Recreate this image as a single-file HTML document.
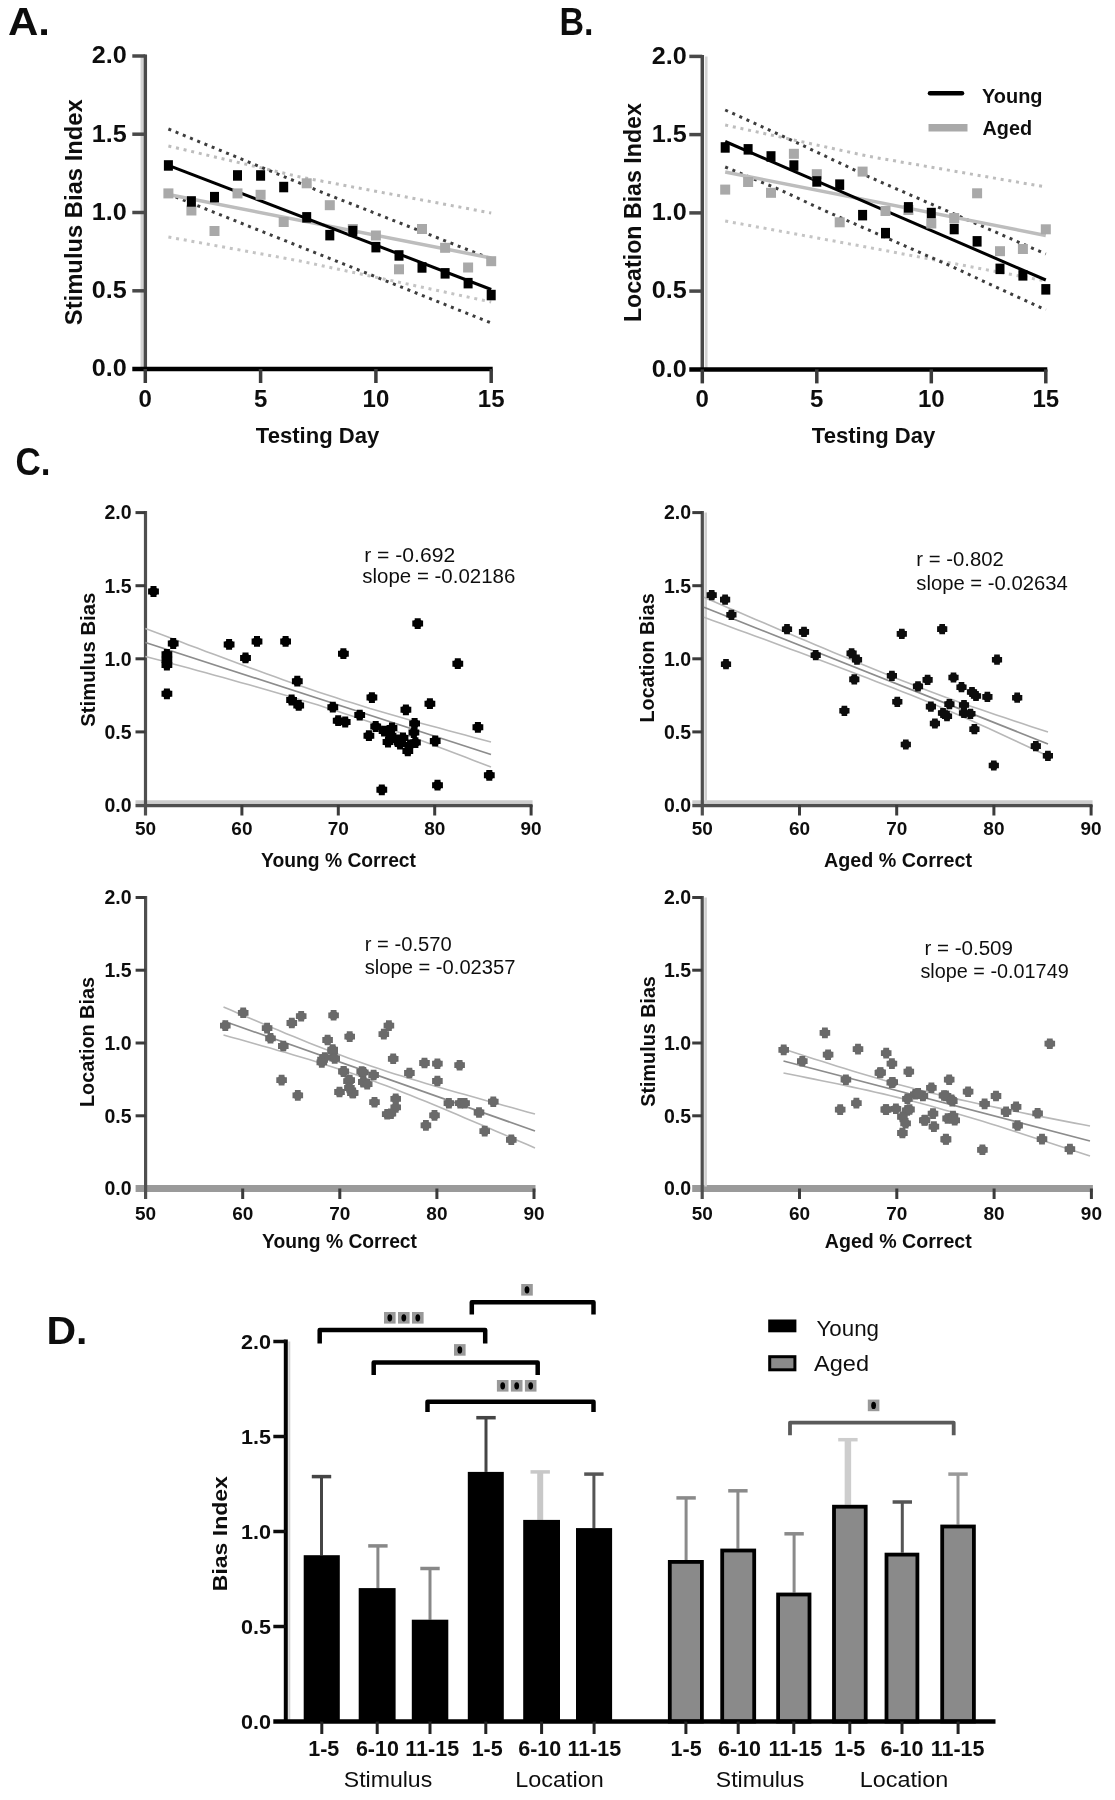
<!DOCTYPE html>
<html><head><meta charset="utf-8"><title>Figure</title>
<style>
html,body{margin:0;padding:0;background:#fff;}
body{width:1115px;height:1800px;overflow:hidden;font-family:"Liberation Sans",sans-serif;}
svg{display:block;}
</style></head>
<body>
<svg width="1115" height="1800" viewBox="0 0 1115 1800" font-family="'Liberation Sans', sans-serif">
<defs><filter id="bl" x="0" y="0" width="100%" height="100%"><feGaussianBlur stdDeviation="0.7"/></filter></defs>
<g filter="url(#bl)">
<rect x="0" y="0" width="1115" height="1800" fill="#fff"/>
<text x="8" y="34.5" font-size="38" font-weight="bold" text-anchor="start" fill="#111" textLength="42" lengthAdjust="spacingAndGlyphs">A.</text>
<text x="559.5" y="35" font-size="38" font-weight="bold" text-anchor="start" fill="#111" textLength="34" lengthAdjust="spacingAndGlyphs">B.</text>
<text x="15.5" y="475" font-size="38" font-weight="bold" text-anchor="start" fill="#111" textLength="35" lengthAdjust="spacingAndGlyphs">C.</text>
<text x="46.5" y="1343.5" font-size="38" font-weight="bold" text-anchor="start" fill="#111" textLength="41" lengthAdjust="spacingAndGlyphs">D.</text>
<line x1="141.8" y1="56" x2="141.8" y2="369" stroke="#d2d2d2" stroke-width="2.5" stroke-linecap="butt"/>
<line x1="145.3" y1="54.5" x2="145.3" y2="369" stroke="#4a4a4a" stroke-width="3.5" stroke-linecap="butt"/>
<line x1="132.3" y1="290.8" x2="145.3" y2="290.8" stroke="#4a4a4a" stroke-width="3.5" stroke-linecap="butt"/>
<line x1="132.3" y1="212.5" x2="145.3" y2="212.5" stroke="#4a4a4a" stroke-width="3.5" stroke-linecap="butt"/>
<line x1="132.3" y1="134.2" x2="145.3" y2="134.2" stroke="#4a4a4a" stroke-width="3.5" stroke-linecap="butt"/>
<line x1="132.3" y1="56" x2="145.3" y2="56" stroke="#4a4a4a" stroke-width="3.5" stroke-linecap="butt"/>
<line x1="132.3" y1="369" x2="492.7" y2="369" stroke="#000" stroke-width="4.5" stroke-linecap="butt"/>
<line x1="145.3" y1="369" x2="145.3" y2="383" stroke="#3a3a3a" stroke-width="3.5" stroke-linecap="butt"/>
<text x="145.3" y="406.5" font-size="24" font-weight="bold" text-anchor="middle" fill="#111">0</text>
<line x1="260.6" y1="369" x2="260.6" y2="383" stroke="#3a3a3a" stroke-width="3.5" stroke-linecap="butt"/>
<text x="260.6" y="406.5" font-size="24" font-weight="bold" text-anchor="middle" fill="#111">5</text>
<line x1="375.9" y1="369" x2="375.9" y2="383" stroke="#3a3a3a" stroke-width="3.5" stroke-linecap="butt"/>
<text x="375.9" y="406.5" font-size="24" font-weight="bold" text-anchor="middle" fill="#111">10</text>
<line x1="491.2" y1="369" x2="491.2" y2="383" stroke="#3a3a3a" stroke-width="3.5" stroke-linecap="butt"/>
<text x="491.2" y="406.5" font-size="24" font-weight="bold" text-anchor="middle" fill="#111">15</text>
<text x="126.8" y="376.3" font-size="24" font-weight="bold" text-anchor="end" fill="#111" textLength="35" lengthAdjust="spacingAndGlyphs">0.0</text>
<text x="126.8" y="298.1" font-size="24" font-weight="bold" text-anchor="end" fill="#111" textLength="35" lengthAdjust="spacingAndGlyphs">0.5</text>
<text x="126.8" y="219.8" font-size="24" font-weight="bold" text-anchor="end" fill="#111" textLength="35" lengthAdjust="spacingAndGlyphs">1.0</text>
<text x="126.8" y="141.6" font-size="24" font-weight="bold" text-anchor="end" fill="#111" textLength="35" lengthAdjust="spacingAndGlyphs">1.5</text>
<text x="126.8" y="63.3" font-size="24" font-weight="bold" text-anchor="end" fill="#111" textLength="35" lengthAdjust="spacingAndGlyphs">2.0</text>
<text x="317.6" y="442.8" font-size="22.3" font-weight="bold" text-anchor="middle" fill="#111" textLength="123.5" lengthAdjust="spacingAndGlyphs">Testing Day</text>
<text transform="translate(82,212.2) rotate(-90)" x="0" y="0" font-size="23.7" font-weight="bold" text-anchor="middle" fill="#111" textLength="226" lengthAdjust="spacingAndGlyphs">Stimulus Bias Index</text>
<polyline points="168.4,146 300,177 491.2,213" fill="none" stroke="#bdbdbd" stroke-width="3" stroke-linecap="butt" stroke-linejoin="round" stroke-dasharray="3 4.8"/>
<polyline points="168.4,237 300,261 491.2,302" fill="none" stroke="#c4c4c4" stroke-width="3" stroke-linecap="butt" stroke-linejoin="round" stroke-dasharray="3 4.8"/>
<polyline points="168.4,129 325,193.5 438,238 491.2,259" fill="none" stroke="#3c3c3c" stroke-width="3" stroke-linecap="butt" stroke-linejoin="round" stroke-dasharray="3 4.8"/>
<polyline points="168.4,194 257,229.5 377.7,277.6 491.2,323" fill="none" stroke="#3c3c3c" stroke-width="3" stroke-linecap="butt" stroke-linejoin="round" stroke-dasharray="3 4.8"/>
<line x1="168.4" y1="194.5" x2="491.2" y2="258" stroke="#bdbdbd" stroke-width="3.5" stroke-linecap="butt"/>
<line x1="168.4" y1="165.4" x2="491.2" y2="289.5" stroke="#000" stroke-width="3" stroke-linecap="butt"/>
<rect x="163.4" y="188.4" width="10" height="10" fill="#a9a9a9"/>
<rect x="186.4" y="205.5" width="10" height="10" fill="#a9a9a9"/>
<rect x="209.5" y="226" width="10" height="10" fill="#a9a9a9"/>
<rect x="232.5" y="188.4" width="10" height="10" fill="#a9a9a9"/>
<rect x="255.6" y="189.8" width="10" height="10" fill="#a9a9a9"/>
<rect x="278.7" y="217" width="10" height="10" fill="#a9a9a9"/>
<rect x="301.7" y="178.3" width="10" height="10" fill="#a9a9a9"/>
<rect x="324.8" y="200.2" width="10" height="10" fill="#a9a9a9"/>
<rect x="347.8" y="224" width="10" height="10" fill="#a9a9a9"/>
<rect x="370.9" y="230.5" width="10" height="10" fill="#a9a9a9"/>
<rect x="394" y="264.3" width="10" height="10" fill="#a9a9a9"/>
<rect x="417" y="224" width="10" height="10" fill="#a9a9a9"/>
<rect x="440.1" y="242.8" width="10" height="10" fill="#a9a9a9"/>
<rect x="463.1" y="262.5" width="10" height="10" fill="#a9a9a9"/>
<rect x="486.2" y="256.2" width="10" height="10" fill="#a9a9a9"/>
<rect x="163.9" y="160.2" width="9" height="10.5" fill="#000"/>
<rect x="186.9" y="196.2" width="9" height="10.5" fill="#000"/>
<rect x="210" y="191.9" width="9" height="10.5" fill="#000"/>
<rect x="233" y="170.2" width="9" height="10.5" fill="#000"/>
<rect x="256.1" y="170.2" width="9" height="10.5" fill="#000"/>
<rect x="279.2" y="181.8" width="9" height="10.5" fill="#000"/>
<rect x="302.2" y="212.1" width="9" height="10.5" fill="#000"/>
<rect x="325.3" y="229.9" width="9" height="10.5" fill="#000"/>
<rect x="348.3" y="225.8" width="9" height="10.5" fill="#000"/>
<rect x="371.4" y="241.9" width="9" height="10.5" fill="#000"/>
<rect x="394.5" y="250.2" width="9" height="10.5" fill="#000"/>
<rect x="417.5" y="262.2" width="9" height="10.5" fill="#000"/>
<rect x="440.6" y="268.1" width="9" height="10.5" fill="#000"/>
<rect x="463.6" y="277.9" width="9" height="10.5" fill="#000"/>
<rect x="486.7" y="289.8" width="9" height="10.5" fill="#000"/>
<line x1="706.3" y1="56.4" x2="706.3" y2="369.4" stroke="#d2d2d2" stroke-width="2.5" stroke-linecap="butt"/>
<line x1="702.3" y1="54.9" x2="702.3" y2="369.4" stroke="#4a4a4a" stroke-width="3.5" stroke-linecap="butt"/>
<line x1="689.3" y1="291.1" x2="702.3" y2="291.1" stroke="#4a4a4a" stroke-width="3.5" stroke-linecap="butt"/>
<line x1="689.3" y1="212.9" x2="702.3" y2="212.9" stroke="#4a4a4a" stroke-width="3.5" stroke-linecap="butt"/>
<line x1="689.3" y1="134.6" x2="702.3" y2="134.6" stroke="#4a4a4a" stroke-width="3.5" stroke-linecap="butt"/>
<line x1="689.3" y1="56.4" x2="702.3" y2="56.4" stroke="#4a4a4a" stroke-width="3.5" stroke-linecap="butt"/>
<line x1="689.3" y1="369.4" x2="1047.3" y2="369.4" stroke="#000" stroke-width="4.5" stroke-linecap="butt"/>
<line x1="702.3" y1="369.4" x2="702.3" y2="383.4" stroke="#3a3a3a" stroke-width="3.5" stroke-linecap="butt"/>
<text x="702.3" y="406.5" font-size="24" font-weight="bold" text-anchor="middle" fill="#111">0</text>
<line x1="816.8" y1="369.4" x2="816.8" y2="383.4" stroke="#3a3a3a" stroke-width="3.5" stroke-linecap="butt"/>
<text x="816.8" y="406.5" font-size="24" font-weight="bold" text-anchor="middle" fill="#111">5</text>
<line x1="931.3" y1="369.4" x2="931.3" y2="383.4" stroke="#3a3a3a" stroke-width="3.5" stroke-linecap="butt"/>
<text x="931.3" y="406.5" font-size="24" font-weight="bold" text-anchor="middle" fill="#111">10</text>
<line x1="1045.8" y1="369.4" x2="1045.8" y2="383.4" stroke="#3a3a3a" stroke-width="3.5" stroke-linecap="butt"/>
<text x="1045.8" y="406.5" font-size="24" font-weight="bold" text-anchor="middle" fill="#111">15</text>
<text x="686.8" y="376.7" font-size="24" font-weight="bold" text-anchor="end" fill="#111" textLength="35" lengthAdjust="spacingAndGlyphs">0.0</text>
<text x="686.8" y="298.4" font-size="24" font-weight="bold" text-anchor="end" fill="#111" textLength="35" lengthAdjust="spacingAndGlyphs">0.5</text>
<text x="686.8" y="220.2" font-size="24" font-weight="bold" text-anchor="end" fill="#111" textLength="35" lengthAdjust="spacingAndGlyphs">1.0</text>
<text x="686.8" y="141.9" font-size="24" font-weight="bold" text-anchor="end" fill="#111" textLength="35" lengthAdjust="spacingAndGlyphs">1.5</text>
<text x="686.8" y="63.7" font-size="24" font-weight="bold" text-anchor="end" fill="#111" textLength="35" lengthAdjust="spacingAndGlyphs">2.0</text>
<text x="873.6" y="442.8" font-size="22.3" font-weight="bold" text-anchor="middle" fill="#111" textLength="123.5" lengthAdjust="spacingAndGlyphs">Testing Day</text>
<text transform="translate(640.5,212.6) rotate(-90)" x="0" y="0" font-size="23" font-weight="bold" text-anchor="middle" fill="#111" textLength="219" lengthAdjust="spacingAndGlyphs">Location Bias Index</text>
<polyline points="725.2,125 869.5,156.5 1045.8,187" fill="none" stroke="#bdbdbd" stroke-width="3" stroke-linecap="butt" stroke-linejoin="round" stroke-dasharray="3 4.8"/>
<polyline points="725.2,221 874.4,248.5 1045.8,281" fill="none" stroke="#c4c4c4" stroke-width="3" stroke-linecap="butt" stroke-linejoin="round" stroke-dasharray="3 4.8"/>
<polyline points="725.2,110 794.4,141.5 870.8,177.7 1045.8,254" fill="none" stroke="#3c3c3c" stroke-width="3" stroke-linecap="butt" stroke-linejoin="round" stroke-dasharray="3 4.8"/>
<polyline points="725.2,167 777.5,188.8 830,213 949.7,265.6 1045.8,310" fill="none" stroke="#3c3c3c" stroke-width="3" stroke-linecap="butt" stroke-linejoin="round" stroke-dasharray="3 4.8"/>
<line x1="725.2" y1="172" x2="1045.8" y2="235.5" stroke="#bdbdbd" stroke-width="3.5" stroke-linecap="butt"/>
<line x1="725.2" y1="141.5" x2="1045.8" y2="280" stroke="#000" stroke-width="3" stroke-linecap="butt"/>
<rect x="720.2" y="184.6" width="10" height="10" fill="#a9a9a9"/>
<rect x="743.1" y="177" width="10" height="10" fill="#a9a9a9"/>
<rect x="766" y="187.8" width="10" height="10" fill="#a9a9a9"/>
<rect x="788.9" y="148.8" width="10" height="10" fill="#a9a9a9"/>
<rect x="811.8" y="169.2" width="10" height="10" fill="#a9a9a9"/>
<rect x="834.7" y="217.3" width="10" height="10" fill="#a9a9a9"/>
<rect x="857.6" y="166.6" width="10" height="10" fill="#a9a9a9"/>
<rect x="880.5" y="206" width="10" height="10" fill="#a9a9a9"/>
<rect x="903.4" y="205" width="10" height="10" fill="#a9a9a9"/>
<rect x="926.3" y="218.5" width="10" height="10" fill="#a9a9a9"/>
<rect x="949.2" y="213" width="10" height="10" fill="#a9a9a9"/>
<rect x="972.1" y="188.3" width="10" height="10" fill="#a9a9a9"/>
<rect x="995" y="246.2" width="10" height="10" fill="#a9a9a9"/>
<rect x="1017.9" y="244" width="10" height="10" fill="#a9a9a9"/>
<rect x="1040.8" y="224.3" width="10" height="10" fill="#a9a9a9"/>
<rect x="720.7" y="142.2" width="9" height="10.5" fill="#000"/>
<rect x="743.6" y="144.1" width="9" height="10.5" fill="#000"/>
<rect x="766.5" y="151.2" width="9" height="10.5" fill="#000"/>
<rect x="789.4" y="160.3" width="9" height="10.5" fill="#000"/>
<rect x="812.3" y="176.2" width="9" height="10.5" fill="#000"/>
<rect x="835.2" y="179.4" width="9" height="10.5" fill="#000"/>
<rect x="858.1" y="209.9" width="9" height="10.5" fill="#000"/>
<rect x="881" y="227.9" width="9" height="10.5" fill="#000"/>
<rect x="903.9" y="202.1" width="9" height="10.5" fill="#000"/>
<rect x="926.8" y="207.8" width="9" height="10.5" fill="#000"/>
<rect x="949.7" y="223.8" width="9" height="10.5" fill="#000"/>
<rect x="972.6" y="236.1" width="9" height="10.5" fill="#000"/>
<rect x="995.5" y="263.6" width="9" height="10.5" fill="#000"/>
<rect x="1018.4" y="270.1" width="9" height="10.5" fill="#000"/>
<rect x="1041.3" y="284.1" width="9" height="10.5" fill="#000"/>
<line x1="930" y1="93.2" x2="962" y2="93.2" stroke="#000" stroke-width="4.5" stroke-linecap="round"/>
<line x1="928.5" y1="127.8" x2="967.5" y2="127.8" stroke="#a9a9a9" stroke-width="7.5" stroke-linecap="butt"/>
<text x="982" y="103" font-size="20" font-weight="bold" text-anchor="start" fill="#111" textLength="60.5" lengthAdjust="spacingAndGlyphs">Young</text>
<text x="982.5" y="134.5" font-size="20" font-weight="bold" text-anchor="start" fill="#111" textLength="49.5" lengthAdjust="spacingAndGlyphs">Aged</text>
<line x1="135.5" y1="801.8" x2="532.6" y2="801.8" stroke="#cdcdcd" stroke-width="3" stroke-linecap="butt"/>
<line x1="135.5" y1="805.5" x2="532.6" y2="805.5" stroke="#505050" stroke-width="3.5" stroke-linecap="butt"/>
<line x1="145.5" y1="511.1" x2="145.5" y2="815.5" stroke="#505050" stroke-width="3.2" stroke-linecap="butt"/>
<line x1="135.5" y1="731.9" x2="145.5" y2="731.9" stroke="#3a3a3a" stroke-width="3" stroke-linecap="butt"/>
<line x1="135.5" y1="658.8" x2="145.5" y2="658.8" stroke="#3a3a3a" stroke-width="3" stroke-linecap="butt"/>
<line x1="135.5" y1="585.7" x2="145.5" y2="585.7" stroke="#3a3a3a" stroke-width="3" stroke-linecap="butt"/>
<line x1="135.5" y1="512.6" x2="145.5" y2="512.6" stroke="#3a3a3a" stroke-width="3" stroke-linecap="butt"/>
<line x1="241.9" y1="805" x2="241.9" y2="815.5" stroke="#3a3a3a" stroke-width="3" stroke-linecap="butt"/>
<line x1="338.3" y1="805" x2="338.3" y2="815.5" stroke="#3a3a3a" stroke-width="3" stroke-linecap="butt"/>
<line x1="434.7" y1="805" x2="434.7" y2="815.5" stroke="#3a3a3a" stroke-width="3" stroke-linecap="butt"/>
<line x1="531.1" y1="805" x2="531.1" y2="815.5" stroke="#3a3a3a" stroke-width="3" stroke-linecap="butt"/>
<text x="145.5" y="834.7" font-size="19" font-weight="bold" text-anchor="middle" fill="#111">50</text>
<text x="241.9" y="834.7" font-size="19" font-weight="bold" text-anchor="middle" fill="#111">60</text>
<text x="338.3" y="834.7" font-size="19" font-weight="bold" text-anchor="middle" fill="#111">70</text>
<text x="434.7" y="834.7" font-size="19" font-weight="bold" text-anchor="middle" fill="#111">80</text>
<text x="531.1" y="834.7" font-size="19" font-weight="bold" text-anchor="middle" fill="#111">90</text>
<text x="131.5" y="811.8" font-size="19.5" font-weight="bold" text-anchor="end" fill="#111">0.0</text>
<text x="131.5" y="738.7" font-size="19.5" font-weight="bold" text-anchor="end" fill="#111">0.5</text>
<text x="131.5" y="665.6" font-size="19.5" font-weight="bold" text-anchor="end" fill="#111">1.0</text>
<text x="131.5" y="592.5" font-size="19.5" font-weight="bold" text-anchor="end" fill="#111">1.5</text>
<text x="131.5" y="519.4" font-size="19.5" font-weight="bold" text-anchor="end" fill="#111">2.0</text>
<text x="338.5" y="866.5" font-size="19.5" font-weight="bold" text-anchor="middle" fill="#111" textLength="155" lengthAdjust="spacingAndGlyphs">Young % Correct</text>
<text transform="translate(94.6,659.7) rotate(-90)" x="0" y="0" font-size="20" font-weight="bold" text-anchor="middle" fill="#111" textLength="134" lengthAdjust="spacingAndGlyphs">Stimulus Bias</text>
<line x1="692.3" y1="801.8" x2="1092.6" y2="801.8" stroke="#cdcdcd" stroke-width="3" stroke-linecap="butt"/>
<line x1="692.3" y1="805.5" x2="1092.6" y2="805.5" stroke="#505050" stroke-width="3.5" stroke-linecap="butt"/>
<line x1="705.7" y1="512.6" x2="705.7" y2="803" stroke="#d0d0d0" stroke-width="2.6" stroke-linecap="butt"/>
<line x1="702.3" y1="511.1" x2="702.3" y2="815.5" stroke="#505050" stroke-width="3.2" stroke-linecap="butt"/>
<line x1="692.3" y1="731.9" x2="702.3" y2="731.9" stroke="#3a3a3a" stroke-width="3" stroke-linecap="butt"/>
<line x1="692.3" y1="658.8" x2="702.3" y2="658.8" stroke="#3a3a3a" stroke-width="3" stroke-linecap="butt"/>
<line x1="692.3" y1="585.7" x2="702.3" y2="585.7" stroke="#3a3a3a" stroke-width="3" stroke-linecap="butt"/>
<line x1="692.3" y1="512.6" x2="702.3" y2="512.6" stroke="#3a3a3a" stroke-width="3" stroke-linecap="butt"/>
<line x1="799.5" y1="805" x2="799.5" y2="815.5" stroke="#3a3a3a" stroke-width="3" stroke-linecap="butt"/>
<line x1="896.7" y1="805" x2="896.7" y2="815.5" stroke="#3a3a3a" stroke-width="3" stroke-linecap="butt"/>
<line x1="993.9" y1="805" x2="993.9" y2="815.5" stroke="#3a3a3a" stroke-width="3" stroke-linecap="butt"/>
<line x1="1091.1" y1="805" x2="1091.1" y2="815.5" stroke="#3a3a3a" stroke-width="3" stroke-linecap="butt"/>
<text x="702.3" y="834.7" font-size="19" font-weight="bold" text-anchor="middle" fill="#111">50</text>
<text x="799.5" y="834.7" font-size="19" font-weight="bold" text-anchor="middle" fill="#111">60</text>
<text x="896.7" y="834.7" font-size="19" font-weight="bold" text-anchor="middle" fill="#111">70</text>
<text x="993.9" y="834.7" font-size="19" font-weight="bold" text-anchor="middle" fill="#111">80</text>
<text x="1091.1" y="834.7" font-size="19" font-weight="bold" text-anchor="middle" fill="#111">90</text>
<text x="691" y="811.8" font-size="19.5" font-weight="bold" text-anchor="end" fill="#111">0.0</text>
<text x="691" y="738.7" font-size="19.5" font-weight="bold" text-anchor="end" fill="#111">0.5</text>
<text x="691" y="665.6" font-size="19.5" font-weight="bold" text-anchor="end" fill="#111">1.0</text>
<text x="691" y="592.5" font-size="19.5" font-weight="bold" text-anchor="end" fill="#111">1.5</text>
<text x="691" y="519.4" font-size="19.5" font-weight="bold" text-anchor="end" fill="#111">2.0</text>
<text x="898" y="866.9" font-size="19.5" font-weight="bold" text-anchor="middle" fill="#111" textLength="148" lengthAdjust="spacingAndGlyphs">Aged % Correct</text>
<text transform="translate(654.4,657.9) rotate(-90)" x="0" y="0" font-size="20" font-weight="bold" text-anchor="middle" fill="#111" textLength="129" lengthAdjust="spacingAndGlyphs">Location Bias</text>
<line x1="135.6" y1="1188.5" x2="535.5" y2="1188.5" stroke="#9a9a9a" stroke-width="7" stroke-linecap="butt"/>
<line x1="145.6" y1="896" x2="145.6" y2="1199" stroke="#505050" stroke-width="3.2" stroke-linecap="butt"/>
<line x1="135.6" y1="1115.8" x2="145.6" y2="1115.8" stroke="#3a3a3a" stroke-width="3" stroke-linecap="butt"/>
<line x1="135.6" y1="1043" x2="145.6" y2="1043" stroke="#3a3a3a" stroke-width="3" stroke-linecap="butt"/>
<line x1="135.6" y1="970.2" x2="145.6" y2="970.2" stroke="#3a3a3a" stroke-width="3" stroke-linecap="butt"/>
<line x1="135.6" y1="897.5" x2="145.6" y2="897.5" stroke="#3a3a3a" stroke-width="3" stroke-linecap="butt"/>
<line x1="242.7" y1="1188.5" x2="242.7" y2="1199" stroke="#3a3a3a" stroke-width="3" stroke-linecap="butt"/>
<line x1="339.8" y1="1188.5" x2="339.8" y2="1199" stroke="#3a3a3a" stroke-width="3" stroke-linecap="butt"/>
<line x1="436.9" y1="1188.5" x2="436.9" y2="1199" stroke="#3a3a3a" stroke-width="3" stroke-linecap="butt"/>
<line x1="534" y1="1188.5" x2="534" y2="1199" stroke="#3a3a3a" stroke-width="3" stroke-linecap="butt"/>
<text x="145.6" y="1220.3" font-size="19" font-weight="bold" text-anchor="middle" fill="#111">50</text>
<text x="242.7" y="1220.3" font-size="19" font-weight="bold" text-anchor="middle" fill="#111">60</text>
<text x="339.8" y="1220.3" font-size="19" font-weight="bold" text-anchor="middle" fill="#111">70</text>
<text x="436.9" y="1220.3" font-size="19" font-weight="bold" text-anchor="middle" fill="#111">80</text>
<text x="534" y="1220.3" font-size="19" font-weight="bold" text-anchor="middle" fill="#111">90</text>
<text x="131.5" y="1195.3" font-size="19.5" font-weight="bold" text-anchor="end" fill="#111">0.0</text>
<text x="131.5" y="1122.5" font-size="19.5" font-weight="bold" text-anchor="end" fill="#111">0.5</text>
<text x="131.5" y="1049.8" font-size="19.5" font-weight="bold" text-anchor="end" fill="#111">1.0</text>
<text x="131.5" y="977" font-size="19.5" font-weight="bold" text-anchor="end" fill="#111">1.5</text>
<text x="131.5" y="904.3" font-size="19.5" font-weight="bold" text-anchor="end" fill="#111">2.0</text>
<text x="339.5" y="1247.7" font-size="19.5" font-weight="bold" text-anchor="middle" fill="#111" textLength="155" lengthAdjust="spacingAndGlyphs">Young % Correct</text>
<text transform="translate(94,1042) rotate(-90)" x="0" y="0" font-size="20" font-weight="bold" text-anchor="middle" fill="#111" textLength="130" lengthAdjust="spacingAndGlyphs">Location Bias</text>
<line x1="692.2" y1="1188.5" x2="1092.9" y2="1188.5" stroke="#9a9a9a" stroke-width="7" stroke-linecap="butt"/>
<line x1="705.6" y1="897.5" x2="705.6" y2="1186.5" stroke="#d0d0d0" stroke-width="2.6" stroke-linecap="butt"/>
<line x1="702.2" y1="896" x2="702.2" y2="1199" stroke="#505050" stroke-width="3.2" stroke-linecap="butt"/>
<line x1="692.2" y1="1115.8" x2="702.2" y2="1115.8" stroke="#3a3a3a" stroke-width="3" stroke-linecap="butt"/>
<line x1="692.2" y1="1043" x2="702.2" y2="1043" stroke="#3a3a3a" stroke-width="3" stroke-linecap="butt"/>
<line x1="692.2" y1="970.2" x2="702.2" y2="970.2" stroke="#3a3a3a" stroke-width="3" stroke-linecap="butt"/>
<line x1="692.2" y1="897.5" x2="702.2" y2="897.5" stroke="#3a3a3a" stroke-width="3" stroke-linecap="butt"/>
<line x1="799.5" y1="1188.5" x2="799.5" y2="1199" stroke="#3a3a3a" stroke-width="3" stroke-linecap="butt"/>
<line x1="896.8" y1="1188.5" x2="896.8" y2="1199" stroke="#3a3a3a" stroke-width="3" stroke-linecap="butt"/>
<line x1="994.1" y1="1188.5" x2="994.1" y2="1199" stroke="#3a3a3a" stroke-width="3" stroke-linecap="butt"/>
<line x1="1091.4" y1="1188.5" x2="1091.4" y2="1199" stroke="#3a3a3a" stroke-width="3" stroke-linecap="butt"/>
<text x="702.2" y="1220.3" font-size="19" font-weight="bold" text-anchor="middle" fill="#111">50</text>
<text x="799.5" y="1220.3" font-size="19" font-weight="bold" text-anchor="middle" fill="#111">60</text>
<text x="896.8" y="1220.3" font-size="19" font-weight="bold" text-anchor="middle" fill="#111">70</text>
<text x="994.1" y="1220.3" font-size="19" font-weight="bold" text-anchor="middle" fill="#111">80</text>
<text x="1091.4" y="1220.3" font-size="19" font-weight="bold" text-anchor="middle" fill="#111">90</text>
<text x="691" y="1195.3" font-size="19.5" font-weight="bold" text-anchor="end" fill="#111">0.0</text>
<text x="691" y="1122.5" font-size="19.5" font-weight="bold" text-anchor="end" fill="#111">0.5</text>
<text x="691" y="1049.8" font-size="19.5" font-weight="bold" text-anchor="end" fill="#111">1.0</text>
<text x="691" y="977" font-size="19.5" font-weight="bold" text-anchor="end" fill="#111">1.5</text>
<text x="691" y="904.3" font-size="19.5" font-weight="bold" text-anchor="end" fill="#111">2.0</text>
<text x="898.3" y="1247.5" font-size="19.5" font-weight="bold" text-anchor="middle" fill="#111" textLength="147" lengthAdjust="spacingAndGlyphs">Aged % Correct</text>
<text transform="translate(654.5,1041.4) rotate(-90)" x="0" y="0" font-size="20" font-weight="bold" text-anchor="middle" fill="#111" textLength="130.5" lengthAdjust="spacingAndGlyphs">Stimulus Bias</text>
<polyline points="145.4,628.5 154,631.8 162.7,635.1 171.3,638.3 180,641.6 188.6,644.9 197.2,648.1 205.9,651.4 214.5,654.6 223.2,657.8 231.8,661 240.4,664.2 249.1,667.4 257.7,670.5 266.4,673.7 275,676.8 283.6,679.9 292.3,682.9 300.9,685.9 309.6,688.9 318.2,691.9 326.8,694.7 335.5,697.6 344.1,700.4 352.8,703.1 361.4,705.8 370,708.5 378.7,711 387.3,713.6 396,716.1 404.6,718.6 413.2,721 421.9,723.4 430.5,725.8 439.2,728.1 447.8,730.5 456.4,732.8 465.1,735.1 473.7,737.4 482.4,739.7 491,742" fill="none" stroke="#b8b8b8" stroke-width="1.6" stroke-linecap="butt" stroke-linejoin="round"/>
<polyline points="145.4,656.5 154,658.8 162.7,661.1 171.3,663.5 180,665.8 188.6,668.1 197.2,670.5 205.9,672.8 214.5,675.2 223.2,677.6 231.8,680 240.4,682.4 249.1,684.8 257.7,687.3 266.4,689.7 275,692.2 283.6,694.7 292.3,697.3 300.9,699.9 309.6,702.5 318.2,705.1 326.8,707.9 335.5,710.6 344.1,713.4 352.8,716.3 361.4,719.2 370,722.1 378.7,725.2 387.3,728.2 396,731.3 404.6,734.4 413.2,737.6 421.9,740.8 430.5,744 439.2,747.3 447.8,750.5 456.4,753.8 465.1,757.1 473.7,760.4 482.4,763.7 491,767" fill="none" stroke="#b8b8b8" stroke-width="1.6" stroke-linecap="butt" stroke-linejoin="round"/>
<line x1="145.4" y1="642.5" x2="491" y2="754.5" stroke="#8c8c8c" stroke-width="1.7" stroke-linecap="butt"/>
<polyline points="704,597.3 712.6,601 721.2,604.7 729.8,608.4 738.4,612.1 747,615.8 755.6,619.4 764.2,623.1 772.8,626.8 781.4,630.4 790,634.1 798.6,637.7 807.2,641.3 815.8,645 824.4,648.6 833,652.2 841.6,655.8 850.2,659.3 858.8,662.9 867.4,666.4 876,669.9 884.6,673.4 893.2,676.9 901.8,680.4 910.4,683.8 919,687.2 927.6,690.6 936.2,693.8 944.8,697 953.4,700.1 962,703.2 970.6,706.2 979.2,709.1 987.8,712.1 996.4,715 1005,717.8 1013.6,720.7 1022.2,723.5 1030.8,726.4 1039.4,729.2 1048,732" fill="none" stroke="#b8b8b8" stroke-width="1.6" stroke-linecap="butt" stroke-linejoin="round"/>
<polyline points="704,617.3 712.6,620.4 721.2,623.6 729.8,626.7 738.4,629.9 747,633 755.6,636.2 764.2,639.3 772.8,642.5 781.4,645.7 790,648.9 798.6,652.1 807.2,655.3 815.8,658.5 824.4,661.7 833,664.9 841.6,668.2 850.2,671.5 858.8,674.7 867.4,678 876,681.4 884.6,684.7 893.2,688.1 901.8,691.4 910.4,694.8 919,698.2 927.6,701.7 936.2,705.3 944.8,709 953.4,712.7 962,716.5 970.6,720.3 979.2,724.2 987.8,728.1 996.4,732 1005,736 1013.6,740 1022.2,744 1030.8,748 1039.4,752 1048,756" fill="none" stroke="#b8b8b8" stroke-width="1.6" stroke-linecap="butt" stroke-linejoin="round"/>
<line x1="704" y1="607.3" x2="1048" y2="744" stroke="#8c8c8c" stroke-width="1.7" stroke-linecap="butt"/>
<polyline points="223.5,1007 231.3,1010.3 239.1,1013.7 246.9,1017 254.7,1020.3 262.4,1023.6 270.2,1026.9 278,1030.1 285.8,1033.4 293.6,1036.6 301.4,1039.8 309.2,1042.9 316.9,1046 324.7,1049.1 332.5,1052.1 340.3,1055 348.1,1057.9 355.9,1060.7 363.7,1063.5 371.5,1066.2 379.2,1068.8 387,1071.4 394.8,1073.9 402.6,1076.3 410.4,1078.7 418.2,1081.1 426,1083.4 433.8,1085.7 441.6,1087.9 449.3,1090.2 457.1,1092.4 464.9,1094.6 472.7,1096.8 480.5,1099 488.3,1101.2 496.1,1103.3 503.9,1105.5 511.6,1107.6 519.4,1109.7 527.2,1111.9 535,1114" fill="none" stroke="#b8b8b8" stroke-width="1.6" stroke-linecap="butt" stroke-linejoin="round"/>
<polyline points="223.5,1035 231.3,1037.2 239.1,1039.3 246.9,1041.5 254.7,1043.7 262.4,1045.9 270.2,1048.1 278,1050.4 285.8,1052.6 293.6,1054.9 301.4,1057.2 309.2,1059.6 316.9,1062 324.7,1064.4 332.5,1066.9 340.3,1069.5 348.1,1072.1 355.9,1074.8 363.7,1077.5 371.5,1080.3 379.2,1083.2 387,1086.1 394.8,1089.1 402.6,1092.2 410.4,1095.3 418.2,1098.4 426,1101.6 433.8,1104.8 441.6,1108.1 449.3,1111.3 457.1,1114.6 464.9,1117.9 472.7,1121.2 480.5,1124.5 488.3,1127.8 496.1,1131.2 503.9,1134.5 511.6,1137.9 519.4,1141.3 527.2,1144.6 535,1148" fill="none" stroke="#b8b8b8" stroke-width="1.6" stroke-linecap="butt" stroke-linejoin="round"/>
<line x1="223.5" y1="1021" x2="535" y2="1131" stroke="#8c8c8c" stroke-width="1.7" stroke-linecap="butt"/>
<polyline points="783.5,1049 791.2,1051.5 798.8,1054 806.5,1056.4 814.1,1058.9 821.8,1061.3 829.5,1063.8 837.1,1066.2 844.8,1068.6 852.5,1070.9 860.1,1073.3 867.8,1075.6 875.5,1077.8 883.1,1080.1 890.8,1082.2 898.4,1084.4 906.1,1086.5 913.8,1088.5 921.4,1090.5 929.1,1092.4 936.8,1094.3 944.4,1096.1 952.1,1097.9 959.7,1099.6 967.4,1101.3 975.1,1103 982.7,1104.7 990.4,1106.3 998,1107.9 1005.7,1109.4 1013.4,1111 1021,1112.5 1028.7,1114.1 1036.4,1115.6 1044,1117.1 1051.7,1118.6 1059.3,1120.1 1067,1121.6 1074.7,1123.1 1082.3,1124.5 1090,1126" fill="none" stroke="#b8b8b8" stroke-width="1.6" stroke-linecap="butt" stroke-linejoin="round"/>
<polyline points="783.5,1073 791.2,1074.5 798.8,1076 806.5,1077.6 814.1,1079.1 821.8,1080.7 829.5,1082.2 837.1,1083.8 844.8,1085.4 852.5,1087.1 860.1,1088.7 867.8,1090.4 875.5,1092.2 883.1,1093.9 890.8,1095.8 898.4,1097.6 906.1,1099.5 913.8,1101.5 921.4,1103.5 929.1,1105.6 936.8,1107.7 944.4,1109.9 952.1,1112.1 959.7,1114.4 967.4,1116.7 975.1,1119 982.7,1121.3 990.4,1123.7 998,1126.1 1005.7,1128.6 1013.4,1131 1021,1133.5 1028.7,1135.9 1036.4,1138.4 1044,1140.9 1051.7,1143.4 1059.3,1145.9 1067,1148.4 1074.7,1150.9 1082.3,1153.5 1090,1156" fill="none" stroke="#b8b8b8" stroke-width="1.6" stroke-linecap="butt" stroke-linejoin="round"/>
<line x1="783.5" y1="1061" x2="1090" y2="1141" stroke="#8c8c8c" stroke-width="1.7" stroke-linecap="butt"/>
<polygon points="150.5,586.1 156.5,586.1 156.5,588.5 158.9,588.5 158.9,594.5 156.5,594.5 156.5,596.9 150.5,596.9 150.5,594.5 148.1,594.5 148.1,588.5 150.5,588.5" fill="#000"/>
<circle cx="153.5" cy="591.5" r="4.6" fill="#000"/>
<polygon points="170.2,638.1 176.2,638.1 176.2,640.5 178.6,640.5 178.6,646.5 176.2,646.5 176.2,648.9 170.2,648.9 170.2,646.5 167.8,646.5 167.8,640.5 170.2,640.5" fill="#000"/>
<circle cx="173.2" cy="643.5" r="4.6" fill="#000"/>
<polygon points="163.9,648.9 169.9,648.9 169.9,651.3 172.3,651.3 172.3,657.3 169.9,657.3 169.9,659.7 163.9,659.7 163.9,657.3 161.5,657.3 161.5,651.3 163.9,651.3" fill="#000"/>
<circle cx="166.9" cy="654.3" r="4.6" fill="#000"/>
<polygon points="163.9,654.3 169.9,654.3 169.9,656.7 172.3,656.7 172.3,662.7 169.9,662.7 169.9,665.1 163.9,665.1 163.9,662.7 161.5,662.7 161.5,656.7 163.9,656.7" fill="#000"/>
<circle cx="166.9" cy="659.7" r="4.6" fill="#000"/>
<polygon points="163.9,659.6 169.9,659.6 169.9,662 172.3,662 172.3,668 169.9,668 169.9,670.4 163.9,670.4 163.9,668 161.5,668 161.5,662 163.9,662" fill="#000"/>
<circle cx="166.9" cy="665" r="4.6" fill="#000"/>
<polygon points="163.9,688.4 169.9,688.4 169.9,690.8 172.3,690.8 172.3,696.8 169.9,696.8 169.9,699.2 163.9,699.2 163.9,696.8 161.5,696.8 161.5,690.8 163.9,690.8" fill="#000"/>
<circle cx="166.9" cy="693.8" r="4.6" fill="#000"/>
<polygon points="226.1,639 232.1,639 232.1,641.4 234.5,641.4 234.5,647.4 232.1,647.4 232.1,649.8 226.1,649.8 226.1,647.4 223.7,647.4 223.7,641.4 226.1,641.4" fill="#000"/>
<circle cx="229.1" cy="644.4" r="4.6" fill="#000"/>
<polygon points="254,636 260,636 260,638.4 262.4,638.4 262.4,644.4 260,644.4 260,646.8 254,646.8 254,644.4 251.6,644.4 251.6,638.4 254,638.4" fill="#000"/>
<circle cx="257" cy="641.4" r="4.6" fill="#000"/>
<polygon points="282.6,636 288.6,636 288.6,638.4 291,638.4 291,644.4 288.6,644.4 288.6,646.8 282.6,646.8 282.6,644.4 280.2,644.4 280.2,638.4 282.6,638.4" fill="#000"/>
<circle cx="285.6" cy="641.4" r="4.6" fill="#000"/>
<polygon points="242.5,652.5 248.5,652.5 248.5,654.9 250.9,654.9 250.9,660.9 248.5,660.9 248.5,663.3 242.5,663.3 242.5,660.9 240.1,660.9 240.1,654.9 242.5,654.9" fill="#000"/>
<circle cx="245.5" cy="657.9" r="4.6" fill="#000"/>
<polygon points="294.3,675.8 300.3,675.8 300.3,678.2 302.7,678.2 302.7,684.2 300.3,684.2 300.3,686.6 294.3,686.6 294.3,684.2 291.9,684.2 291.9,678.2 294.3,678.2" fill="#000"/>
<circle cx="297.3" cy="681.2" r="4.6" fill="#000"/>
<polygon points="288.6,694.6 294.6,694.6 294.6,697 297,697 297,703 294.6,703 294.6,705.4 288.6,705.4 288.6,703 286.2,703 286.2,697 288.6,697" fill="#000"/>
<circle cx="291.6" cy="700" r="4.6" fill="#000"/>
<polygon points="295.7,700 301.7,700 301.7,702.4 304.1,702.4 304.1,708.4 301.7,708.4 301.7,710.8 295.7,710.8 295.7,708.4 293.3,708.4 293.3,702.4 295.7,702.4" fill="#000"/>
<circle cx="298.7" cy="705.4" r="4.6" fill="#000"/>
<polygon points="329.8,701.8 335.8,701.8 335.8,704.2 338.2,704.2 338.2,710.2 335.8,710.2 335.8,712.6 329.8,712.6 329.8,710.2 327.4,710.2 327.4,704.2 329.8,704.2" fill="#000"/>
<circle cx="332.8" cy="707.2" r="4.6" fill="#000"/>
<polygon points="335.2,715.3 341.2,715.3 341.2,717.7 343.6,717.7 343.6,723.7 341.2,723.7 341.2,726.1 335.2,726.1 335.2,723.7 332.8,723.7 332.8,717.7 335.2,717.7" fill="#000"/>
<circle cx="338.2" cy="720.7" r="4.6" fill="#000"/>
<polygon points="340.4,648.3 346.4,648.3 346.4,650.7 348.8,650.7 348.8,656.7 346.4,656.7 346.4,659.1 340.4,659.1 340.4,656.7 338,656.7 338,650.7 340.4,650.7" fill="#000"/>
<circle cx="343.4" cy="653.7" r="4.6" fill="#000"/>
<polygon points="414.7,618.2 420.7,618.2 420.7,620.6 423.1,620.6 423.1,626.6 420.7,626.6 420.7,629 414.7,629 414.7,626.6 412.3,626.6 412.3,620.6 414.7,620.6" fill="#000"/>
<circle cx="417.7" cy="623.6" r="4.6" fill="#000"/>
<polygon points="454.8,658.3 460.8,658.3 460.8,660.7 463.2,660.7 463.2,666.7 460.8,666.7 460.8,669.1 454.8,669.1 454.8,666.7 452.4,666.7 452.4,660.7 454.8,660.7" fill="#000"/>
<circle cx="457.8" cy="663.7" r="4.6" fill="#000"/>
<polygon points="368.9,692.2 374.9,692.2 374.9,694.6 377.3,694.6 377.3,700.6 374.9,700.6 374.9,703 368.9,703 368.9,700.6 366.5,700.6 366.5,694.6 368.9,694.6" fill="#000"/>
<circle cx="371.9" cy="697.6" r="4.6" fill="#000"/>
<polygon points="426.9,698.3 432.9,698.3 432.9,700.7 435.3,700.7 435.3,706.7 432.9,706.7 432.9,709.1 426.9,709.1 426.9,706.7 424.5,706.7 424.5,700.7 426.9,700.7" fill="#000"/>
<circle cx="429.9" cy="703.7" r="4.6" fill="#000"/>
<polygon points="402.9,704.4 408.9,704.4 408.9,706.8 411.3,706.8 411.3,712.8 408.9,712.8 408.9,715.2 402.9,715.2 402.9,712.8 400.5,712.8 400.5,706.8 402.9,706.8" fill="#000"/>
<circle cx="405.9" cy="709.8" r="4.6" fill="#000"/>
<polygon points="342.2,716.6 348.2,716.6 348.2,719 350.6,719 350.6,725 348.2,725 348.2,727.4 342.2,727.4 342.2,725 339.8,725 339.8,719 342.2,719" fill="#000"/>
<circle cx="345.2" cy="722" r="4.6" fill="#000"/>
<polygon points="356.7,709.7 362.7,709.7 362.7,712.1 365.1,712.1 365.1,718.1 362.7,718.1 362.7,720.5 356.7,720.5 356.7,718.1 354.3,718.1 354.3,712.1 356.7,712.1" fill="#000"/>
<circle cx="359.7" cy="715.1" r="4.6" fill="#000"/>
<polygon points="365.9,730.3 371.9,730.3 371.9,732.7 374.3,732.7 374.3,738.7 371.9,738.7 371.9,741.1 365.9,741.1 365.9,738.7 363.5,738.7 363.5,732.7 365.9,732.7" fill="#000"/>
<circle cx="368.9" cy="735.7" r="4.6" fill="#000"/>
<polygon points="372.7,721.1 378.7,721.1 378.7,723.5 381.1,723.5 381.1,729.5 378.7,729.5 378.7,731.9 372.7,731.9 372.7,729.5 370.3,729.5 370.3,723.5 372.7,723.5" fill="#000"/>
<circle cx="375.7" cy="726.5" r="4.6" fill="#000"/>
<polygon points="381.1,725.7 387.1,725.7 387.1,728.1 389.5,728.1 389.5,734.1 387.1,734.1 387.1,736.5 381.1,736.5 381.1,734.1 378.7,734.1 378.7,728.1 381.1,728.1" fill="#000"/>
<circle cx="384.1" cy="731.1" r="4.6" fill="#000"/>
<polygon points="388,730.3 394,730.3 394,732.7 396.4,732.7 396.4,738.7 394,738.7 394,741.1 388,741.1 388,738.7 385.6,738.7 385.6,732.7 388,732.7" fill="#000"/>
<circle cx="391" cy="735.7" r="4.6" fill="#000"/>
<polygon points="397.1,738.7 403.1,738.7 403.1,741.1 405.5,741.1 405.5,747.1 403.1,747.1 403.1,749.5 397.1,749.5 397.1,747.1 394.7,747.1 394.7,741.1 397.1,741.1" fill="#000"/>
<circle cx="400.1" cy="744.1" r="4.6" fill="#000"/>
<polygon points="404.8,745.5 410.8,745.5 410.8,747.9 413.2,747.9 413.2,753.9 410.8,753.9 410.8,756.3 404.8,756.3 404.8,753.9 402.4,753.9 402.4,747.9 404.8,747.9" fill="#000"/>
<circle cx="407.8" cy="750.9" r="4.6" fill="#000"/>
<polygon points="411.6,718.1 417.6,718.1 417.6,720.5 420,720.5 420,726.5 417.6,726.5 417.6,728.9 411.6,728.9 411.6,726.5 409.2,726.5 409.2,720.5 411.6,720.5" fill="#000"/>
<circle cx="414.6" cy="723.5" r="4.6" fill="#000"/>
<polygon points="410.9,727.2 416.9,727.2 416.9,729.6 419.3,729.6 419.3,735.6 416.9,735.6 416.9,738 410.9,738 410.9,735.6 408.5,735.6 408.5,729.6 410.9,729.6" fill="#000"/>
<circle cx="413.9" cy="732.6" r="4.6" fill="#000"/>
<polygon points="412.4,737.2 418.4,737.2 418.4,739.6 420.8,739.6 420.8,745.6 418.4,745.6 418.4,748 412.4,748 412.4,745.6 410,745.6 410,739.6 412.4,739.6" fill="#000"/>
<circle cx="415.4" cy="742.6" r="4.6" fill="#000"/>
<polygon points="432.2,735.6 438.2,735.6 438.2,738 440.6,738 440.6,744 438.2,744 438.2,746.4 432.2,746.4 432.2,744 429.8,744 429.8,738 432.2,738" fill="#000"/>
<circle cx="435.2" cy="741" r="4.6" fill="#000"/>
<polygon points="474.9,721.9 480.9,721.9 480.9,724.3 483.3,724.3 483.3,730.3 480.9,730.3 480.9,732.7 474.9,732.7 474.9,730.3 472.5,730.3 472.5,724.3 474.9,724.3" fill="#000"/>
<circle cx="477.9" cy="727.3" r="4.6" fill="#000"/>
<polygon points="486.3,769.9 492.3,769.9 492.3,772.3 494.7,772.3 494.7,778.3 492.3,778.3 492.3,780.7 486.3,780.7 486.3,778.3 483.9,778.3 483.9,772.3 486.3,772.3" fill="#000"/>
<circle cx="489.3" cy="775.3" r="4.6" fill="#000"/>
<polygon points="434.5,779.8 440.5,779.8 440.5,782.2 442.9,782.2 442.9,788.2 440.5,788.2 440.5,790.6 434.5,790.6 434.5,788.2 432.1,788.2 432.1,782.2 434.5,782.2" fill="#000"/>
<circle cx="437.5" cy="785.2" r="4.6" fill="#000"/>
<polygon points="378.8,784.4 384.8,784.4 384.8,786.8 387.2,786.8 387.2,792.8 384.8,792.8 384.8,795.2 378.8,795.2 378.8,792.8 376.4,792.8 376.4,786.8 378.8,786.8" fill="#000"/>
<circle cx="381.8" cy="789.8" r="4.6" fill="#000"/>
<polygon points="394,734.6 400,734.6 400,737 402.4,737 402.4,743 400,743 400,745.4 394,745.4 394,743 391.6,743 391.6,737 394,737" fill="#000"/>
<circle cx="397" cy="740" r="4.6" fill="#000"/>
<polygon points="389,722.6 395,722.6 395,725 397.4,725 397.4,731 395,731 395,733.4 389,733.4 389,731 386.6,731 386.6,725 389,725" fill="#000"/>
<circle cx="392" cy="728" r="4.6" fill="#000"/>
<polygon points="400,732.6 406,732.6 406,735 408.4,735 408.4,741 406,741 406,743.4 400,743.4 400,741 397.6,741 397.6,735 400,735" fill="#000"/>
<circle cx="403" cy="738" r="4.6" fill="#000"/>
<polygon points="407,739.6 413,739.6 413,742 415.4,742 415.4,748 413,748 413,750.4 407,750.4 407,748 404.6,748 404.6,742 407,742" fill="#000"/>
<circle cx="410" cy="745" r="4.6" fill="#000"/>
<polygon points="385,736.6 391,736.6 391,739 393.4,739 393.4,745 391,745 391,747.4 385,747.4 385,745 382.6,745 382.6,739 385,739" fill="#000"/>
<circle cx="388" cy="742" r="4.6" fill="#000"/>
<polygon points="708.9,590 714.5,590 714.5,592.3 716.8,592.3 716.8,597.9 714.5,597.9 714.5,600.2 708.9,600.2 708.9,597.9 706.6,597.9 706.6,592.3 708.9,592.3" fill="#0a0a0a"/>
<circle cx="711.7" cy="595.1" r="4.3" fill="#0a0a0a"/>
<polygon points="722.3,594.5 727.9,594.5 727.9,596.8 730.2,596.8 730.2,602.4 727.9,602.4 727.9,604.7 722.3,604.7 722.3,602.4 720,602.4 720,596.8 722.3,596.8" fill="#0a0a0a"/>
<circle cx="725.1" cy="599.6" r="4.3" fill="#0a0a0a"/>
<polygon points="728.6,609.7 734.2,609.7 734.2,612 736.5,612 736.5,617.6 734.2,617.6 734.2,619.9 728.6,619.9 728.6,617.6 726.3,617.6 726.3,612 728.6,612" fill="#0a0a0a"/>
<circle cx="731.4" cy="614.8" r="4.3" fill="#0a0a0a"/>
<polygon points="723.2,659.1 728.8,659.1 728.8,661.4 731.1,661.4 731.1,667 728.8,667 728.8,669.3 723.2,669.3 723.2,667 720.9,667 720.9,661.4 723.2,661.4" fill="#0a0a0a"/>
<circle cx="726" cy="664.2" r="4.3" fill="#0a0a0a"/>
<polygon points="784.2,624.1 789.8,624.1 789.8,626.4 792.1,626.4 792.1,632 789.8,632 789.8,634.3 784.2,634.3 784.2,632 781.9,632 781.9,626.4 784.2,626.4" fill="#0a0a0a"/>
<circle cx="787" cy="629.2" r="4.3" fill="#0a0a0a"/>
<polygon points="801.2,626.8 806.8,626.8 806.8,629.1 809.1,629.1 809.1,634.7 806.8,634.7 806.8,637 801.2,637 801.2,634.7 798.9,634.7 798.9,629.1 801.2,629.1" fill="#0a0a0a"/>
<circle cx="804" cy="631.9" r="4.3" fill="#0a0a0a"/>
<polygon points="812.9,650.1 818.5,650.1 818.5,652.4 820.8,652.4 820.8,658 818.5,658 818.5,660.3 812.9,660.3 812.9,658 810.6,658 810.6,652.4 812.9,652.4" fill="#0a0a0a"/>
<circle cx="815.7" cy="655.2" r="4.3" fill="#0a0a0a"/>
<polygon points="848.8,648.3 854.4,648.3 854.4,650.6 856.7,650.6 856.7,656.2 854.4,656.2 854.4,658.5 848.8,658.5 848.8,656.2 846.5,656.2 846.5,650.6 848.8,650.6" fill="#0a0a0a"/>
<circle cx="851.6" cy="653.4" r="4.3" fill="#0a0a0a"/>
<polygon points="854.2,654.6 859.8,654.6 859.8,656.9 862.1,656.9 862.1,662.5 859.8,662.5 859.8,664.8 854.2,664.8 854.2,662.5 851.9,662.5 851.9,656.9 854.2,656.9" fill="#0a0a0a"/>
<circle cx="857" cy="659.7" r="4.3" fill="#0a0a0a"/>
<polygon points="851.5,674.3 857.1,674.3 857.1,676.6 859.4,676.6 859.4,682.2 857.1,682.2 857.1,684.5 851.5,684.5 851.5,682.2 849.2,682.2 849.2,676.6 851.5,676.6" fill="#0a0a0a"/>
<circle cx="854.3" cy="679.4" r="4.3" fill="#0a0a0a"/>
<polygon points="841.6,705.7 847.2,705.7 847.2,708 849.5,708 849.5,713.6 847.2,713.6 847.2,715.9 841.6,715.9 841.6,713.6 839.3,713.6 839.3,708 841.6,708" fill="#0a0a0a"/>
<circle cx="844.4" cy="710.8" r="4.3" fill="#0a0a0a"/>
<polygon points="889.1,670.7 894.7,670.7 894.7,673 897,673 897,678.6 894.7,678.6 894.7,680.9 889.1,680.9 889.1,678.6 886.8,678.6 886.8,673 889.1,673" fill="#0a0a0a"/>
<circle cx="891.9" cy="675.8" r="4.3" fill="#0a0a0a"/>
<polygon points="894.5,696.7 900.1,696.7 900.1,699 902.4,699 902.4,704.6 900.1,704.6 900.1,706.9 894.5,706.9 894.5,704.6 892.2,704.6 892.2,699 894.5,699" fill="#0a0a0a"/>
<circle cx="897.3" cy="701.8" r="4.3" fill="#0a0a0a"/>
<polygon points="899,628.8 904.6,628.8 904.6,631.1 906.9,631.1 906.9,636.7 904.6,636.7 904.6,639 899,639 899,636.7 896.7,636.7 896.7,631.1 899,631.1" fill="#0a0a0a"/>
<circle cx="901.8" cy="633.9" r="4.3" fill="#0a0a0a"/>
<polygon points="939.4,624 945,624 945,626.3 947.3,626.3 947.3,631.9 945,631.9 945,634.2 939.4,634.2 939.4,631.9 937.1,631.9 937.1,626.3 939.4,626.3" fill="#0a0a0a"/>
<circle cx="942.2" cy="629.1" r="4.3" fill="#0a0a0a"/>
<polygon points="994.2,654.6 999.8,654.6 999.8,656.9 1002.1,656.9 1002.1,662.5 999.8,662.5 999.8,664.8 994.2,664.8 994.2,662.5 991.9,662.5 991.9,656.9 994.2,656.9" fill="#0a0a0a"/>
<circle cx="997" cy="659.7" r="4.3" fill="#0a0a0a"/>
<polygon points="924.8,674.8 930.4,674.8 930.4,677.1 932.7,677.1 932.7,682.7 930.4,682.7 930.4,685 924.8,685 924.8,682.7 922.5,682.7 922.5,677.1 924.8,677.1" fill="#0a0a0a"/>
<circle cx="927.6" cy="679.9" r="4.3" fill="#0a0a0a"/>
<polygon points="915.2,681.3 920.8,681.3 920.8,683.6 923.1,683.6 923.1,689.2 920.8,689.2 920.8,691.5 915.2,691.5 915.2,689.2 912.9,689.2 912.9,683.6 915.2,683.6" fill="#0a0a0a"/>
<circle cx="918" cy="686.4" r="4.3" fill="#0a0a0a"/>
<polygon points="950.7,672.4 956.3,672.4 956.3,674.7 958.6,674.7 958.6,680.3 956.3,680.3 956.3,682.6 950.7,682.6 950.7,680.3 948.4,680.3 948.4,674.7 950.7,674.7" fill="#0a0a0a"/>
<circle cx="953.5" cy="677.5" r="4.3" fill="#0a0a0a"/>
<polygon points="958.7,682.1 964.3,682.1 964.3,684.4 966.6,684.4 966.6,690 964.3,690 964.3,692.3 958.7,692.3 958.7,690 956.4,690 956.4,684.4 958.7,684.4" fill="#0a0a0a"/>
<circle cx="961.5" cy="687.2" r="4.3" fill="#0a0a0a"/>
<polygon points="969.2,686.9 974.8,686.9 974.8,689.2 977.1,689.2 977.1,694.8 974.8,694.8 974.8,697.1 969.2,697.1 969.2,694.8 966.9,694.8 966.9,689.2 969.2,689.2" fill="#0a0a0a"/>
<circle cx="972" cy="692" r="4.3" fill="#0a0a0a"/>
<polygon points="973.2,690.9 978.8,690.9 978.8,693.2 981.1,693.2 981.1,698.8 978.8,698.8 978.8,701.1 973.2,701.1 973.2,698.8 970.9,698.8 970.9,693.2 973.2,693.2" fill="#0a0a0a"/>
<circle cx="976" cy="696" r="4.3" fill="#0a0a0a"/>
<polygon points="984.6,691.8 990.2,691.8 990.2,694.1 992.5,694.1 992.5,699.7 990.2,699.7 990.2,702 984.6,702 984.6,699.7 982.3,699.7 982.3,694.1 984.6,694.1" fill="#0a0a0a"/>
<circle cx="987.4" cy="696.9" r="4.3" fill="#0a0a0a"/>
<polygon points="1014.4,692.6 1020,692.6 1020,694.9 1022.3,694.9 1022.3,700.5 1020,700.5 1020,702.8 1014.4,702.8 1014.4,700.5 1012.1,700.5 1012.1,694.9 1014.4,694.9" fill="#0a0a0a"/>
<circle cx="1017.2" cy="697.7" r="4.3" fill="#0a0a0a"/>
<polygon points="928.1,701.5 933.7,701.5 933.7,703.8 936,703.8 936,709.4 933.7,709.4 933.7,711.7 928.1,711.7 928.1,709.4 925.8,709.4 925.8,703.8 928.1,703.8" fill="#0a0a0a"/>
<circle cx="930.9" cy="706.6" r="4.3" fill="#0a0a0a"/>
<polygon points="946.6,699 952.2,699 952.2,701.3 954.5,701.3 954.5,706.9 952.2,706.9 952.2,709.2 946.6,709.2 946.6,706.9 944.3,706.9 944.3,701.3 946.6,701.3" fill="#0a0a0a"/>
<circle cx="949.4" cy="704.1" r="4.3" fill="#0a0a0a"/>
<polygon points="961.2,699.9 966.8,699.9 966.8,702.2 969.1,702.2 969.1,707.8 966.8,707.8 966.8,710.1 961.2,710.1 961.2,707.8 958.9,707.8 958.9,702.2 961.2,702.2" fill="#0a0a0a"/>
<circle cx="964" cy="705" r="4.3" fill="#0a0a0a"/>
<polygon points="940.2,707.9 945.8,707.9 945.8,710.2 948.1,710.2 948.1,715.8 945.8,715.8 945.8,718.1 940.2,718.1 940.2,715.8 937.9,715.8 937.9,710.2 940.2,710.2" fill="#0a0a0a"/>
<circle cx="943" cy="713" r="4.3" fill="#0a0a0a"/>
<polygon points="944.2,711.1 949.8,711.1 949.8,713.4 952.1,713.4 952.1,719 949.8,719 949.8,721.3 944.2,721.3 944.2,719 941.9,719 941.9,713.4 944.2,713.4" fill="#0a0a0a"/>
<circle cx="947" cy="716.2" r="4.3" fill="#0a0a0a"/>
<polygon points="961.2,707.9 966.8,707.9 966.8,710.2 969.1,710.2 969.1,715.8 966.8,715.8 966.8,718.1 961.2,718.1 961.2,715.8 958.9,715.8 958.9,710.2 961.2,710.2" fill="#0a0a0a"/>
<circle cx="964" cy="713" r="4.3" fill="#0a0a0a"/>
<polygon points="967.6,708.7 973.2,708.7 973.2,711 975.5,711 975.5,716.6 973.2,716.6 973.2,718.9 967.6,718.9 967.6,716.6 965.3,716.6 965.3,711 967.6,711" fill="#0a0a0a"/>
<circle cx="970.4" cy="713.8" r="4.3" fill="#0a0a0a"/>
<polygon points="932.1,718.4 937.7,718.4 937.7,720.7 940,720.7 940,726.3 937.7,726.3 937.7,728.6 932.1,728.6 932.1,726.3 929.8,726.3 929.8,720.7 932.1,720.7" fill="#0a0a0a"/>
<circle cx="934.9" cy="723.5" r="4.3" fill="#0a0a0a"/>
<polygon points="971.6,724.1 977.2,724.1 977.2,726.4 979.5,726.4 979.5,732 977.2,732 977.2,734.3 971.6,734.3 971.6,732 969.3,732 969.3,726.4 971.6,726.4" fill="#0a0a0a"/>
<circle cx="974.4" cy="729.2" r="4.3" fill="#0a0a0a"/>
<polygon points="903,739.4 908.6,739.4 908.6,741.7 910.9,741.7 910.9,747.3 908.6,747.3 908.6,749.6 903,749.6 903,747.3 900.7,747.3 900.7,741.7 903,741.7" fill="#0a0a0a"/>
<circle cx="905.8" cy="744.5" r="4.3" fill="#0a0a0a"/>
<polygon points="1033,741 1038.6,741 1038.6,743.3 1040.9,743.3 1040.9,748.9 1038.6,748.9 1038.6,751.2 1033,751.2 1033,748.9 1030.7,748.9 1030.7,743.3 1033,743.3" fill="#0a0a0a"/>
<circle cx="1035.8" cy="746.1" r="4.3" fill="#0a0a0a"/>
<polygon points="1045.1,750.7 1050.7,750.7 1050.7,753 1053,753 1053,758.6 1050.7,758.6 1050.7,760.9 1045.1,760.9 1045.1,758.6 1042.8,758.6 1042.8,753 1045.1,753" fill="#0a0a0a"/>
<circle cx="1047.9" cy="755.8" r="4.3" fill="#0a0a0a"/>
<polygon points="991,760.4 996.6,760.4 996.6,762.7 998.9,762.7 998.9,768.3 996.6,768.3 996.6,770.6 991,770.6 991,768.3 988.7,768.3 988.7,762.7 991,762.7" fill="#0a0a0a"/>
<circle cx="993.8" cy="765.5" r="4.3" fill="#0a0a0a"/>
<polygon points="222.4,1020.3 228.2,1020.3 228.2,1022.7 230.6,1022.7 230.6,1028.5 228.2,1028.5 228.2,1030.9 222.4,1030.9 222.4,1028.5 220,1028.5 220,1022.7 222.4,1022.7" fill="#6a6a6a"/>
<circle cx="225.3" cy="1025.6" r="4.5" fill="#6a6a6a"/>
<polygon points="240.3,1007.5 246.1,1007.5 246.1,1009.9 248.5,1009.9 248.5,1015.7 246.1,1015.7 246.1,1018.1 240.3,1018.1 240.3,1015.7 237.9,1015.7 237.9,1009.9 240.3,1009.9" fill="#6a6a6a"/>
<circle cx="243.2" cy="1012.8" r="4.5" fill="#6a6a6a"/>
<polygon points="264.2,1022.8 270,1022.8 270,1025.2 272.4,1025.2 272.4,1031 270,1031 270,1033.4 264.2,1033.4 264.2,1031 261.8,1031 261.8,1025.2 264.2,1025.2" fill="#6a6a6a"/>
<circle cx="267.1" cy="1028.1" r="4.5" fill="#6a6a6a"/>
<polygon points="267.6,1033 273.4,1033 273.4,1035.4 275.8,1035.4 275.8,1041.2 273.4,1041.2 273.4,1043.6 267.6,1043.6 267.6,1041.2 265.2,1041.2 265.2,1035.4 267.6,1035.4" fill="#6a6a6a"/>
<circle cx="270.5" cy="1038.3" r="4.5" fill="#6a6a6a"/>
<polygon points="288.9,1017.7 294.7,1017.7 294.7,1020.1 297.1,1020.1 297.1,1025.9 294.7,1025.9 294.7,1028.3 288.9,1028.3 288.9,1025.9 286.5,1025.9 286.5,1020.1 288.9,1020.1" fill="#6a6a6a"/>
<circle cx="291.8" cy="1023" r="4.5" fill="#6a6a6a"/>
<polygon points="298.3,1010.9 304.1,1010.9 304.1,1013.3 306.5,1013.3 306.5,1019.1 304.1,1019.1 304.1,1021.5 298.3,1021.5 298.3,1019.1 295.9,1019.1 295.9,1013.3 298.3,1013.3" fill="#6a6a6a"/>
<circle cx="301.2" cy="1016.2" r="4.5" fill="#6a6a6a"/>
<polygon points="330.7,1010 336.5,1010 336.5,1012.4 338.9,1012.4 338.9,1018.2 336.5,1018.2 336.5,1020.6 330.7,1020.6 330.7,1018.2 328.3,1018.2 328.3,1012.4 330.7,1012.4" fill="#6a6a6a"/>
<circle cx="333.6" cy="1015.3" r="4.5" fill="#6a6a6a"/>
<polygon points="280.4,1040.7 286.2,1040.7 286.2,1043.1 288.6,1043.1 288.6,1048.9 286.2,1048.9 286.2,1051.3 280.4,1051.3 280.4,1048.9 278,1048.9 278,1043.1 280.4,1043.1" fill="#6a6a6a"/>
<circle cx="283.3" cy="1046" r="4.5" fill="#6a6a6a"/>
<polygon points="278.7,1074.8 284.5,1074.8 284.5,1077.2 286.9,1077.2 286.9,1083 284.5,1083 284.5,1085.4 278.7,1085.4 278.7,1083 276.3,1083 276.3,1077.2 278.7,1077.2" fill="#6a6a6a"/>
<circle cx="281.6" cy="1080.1" r="4.5" fill="#6a6a6a"/>
<polygon points="294.9,1090.1 300.7,1090.1 300.7,1092.5 303.1,1092.5 303.1,1098.3 300.7,1098.3 300.7,1100.7 294.9,1100.7 294.9,1098.3 292.5,1098.3 292.5,1092.5 294.9,1092.5" fill="#6a6a6a"/>
<circle cx="297.8" cy="1095.4" r="4.5" fill="#6a6a6a"/>
<polygon points="324.7,1034.7 330.5,1034.7 330.5,1037.1 332.9,1037.1 332.9,1042.9 330.5,1042.9 330.5,1045.3 324.7,1045.3 324.7,1042.9 322.3,1042.9 322.3,1037.1 324.7,1037.1" fill="#6a6a6a"/>
<circle cx="327.6" cy="1040" r="4.5" fill="#6a6a6a"/>
<polygon points="329.8,1045.8 335.6,1045.8 335.6,1048.2 338,1048.2 338,1054 335.6,1054 335.6,1056.4 329.8,1056.4 329.8,1054 327.4,1054 327.4,1048.2 329.8,1048.2" fill="#6a6a6a"/>
<circle cx="332.7" cy="1051.1" r="4.5" fill="#6a6a6a"/>
<polygon points="319.6,1054.3 325.4,1054.3 325.4,1056.7 327.8,1056.7 327.8,1062.5 325.4,1062.5 325.4,1064.9 319.6,1064.9 319.6,1062.5 317.2,1062.5 317.2,1056.7 319.6,1056.7" fill="#6a6a6a"/>
<circle cx="322.5" cy="1059.6" r="4.5" fill="#6a6a6a"/>
<polygon points="346.8,1031.3 352.6,1031.3 352.6,1033.7 355,1033.7 355,1039.5 352.6,1039.5 352.6,1041.9 346.8,1041.9 346.8,1039.5 344.4,1039.5 344.4,1033.7 346.8,1033.7" fill="#6a6a6a"/>
<circle cx="349.7" cy="1036.6" r="4.5" fill="#6a6a6a"/>
<polygon points="340.9,1066.3 346.7,1066.3 346.7,1068.7 349.1,1068.7 349.1,1074.5 346.7,1074.5 346.7,1076.9 340.9,1076.9 340.9,1074.5 338.5,1074.5 338.5,1068.7 340.9,1068.7" fill="#6a6a6a"/>
<circle cx="343.8" cy="1071.6" r="4.5" fill="#6a6a6a"/>
<polygon points="346.8,1074.8 352.6,1074.8 352.6,1077.2 355,1077.2 355,1083 352.6,1083 352.6,1085.4 346.8,1085.4 346.8,1083 344.4,1083 344.4,1077.2 346.8,1077.2" fill="#6a6a6a"/>
<circle cx="349.7" cy="1080.1" r="4.5" fill="#6a6a6a"/>
<polygon points="358.8,1066.3 364.6,1066.3 364.6,1068.7 367,1068.7 367,1074.5 364.6,1074.5 364.6,1076.9 358.8,1076.9 358.8,1074.5 356.4,1074.5 356.4,1068.7 358.8,1068.7" fill="#6a6a6a"/>
<circle cx="361.7" cy="1071.6" r="4.5" fill="#6a6a6a"/>
<polygon points="360.5,1076.5 366.3,1076.5 366.3,1078.9 368.7,1078.9 368.7,1084.7 366.3,1084.7 366.3,1087.1 360.5,1087.1 360.5,1084.7 358.1,1084.7 358.1,1078.9 360.5,1078.9" fill="#6a6a6a"/>
<circle cx="363.4" cy="1081.8" r="4.5" fill="#6a6a6a"/>
<polygon points="370.7,1069.7 376.5,1069.7 376.5,1072.1 378.9,1072.1 378.9,1077.9 376.5,1077.9 376.5,1080.3 370.7,1080.3 370.7,1077.9 368.3,1077.9 368.3,1072.1 370.7,1072.1" fill="#6a6a6a"/>
<circle cx="373.6" cy="1075" r="4.5" fill="#6a6a6a"/>
<polygon points="336.6,1086.7 342.4,1086.7 342.4,1089.1 344.8,1089.1 344.8,1094.9 342.4,1094.9 342.4,1097.3 336.6,1097.3 336.6,1094.9 334.2,1094.9 334.2,1089.1 336.6,1089.1" fill="#6a6a6a"/>
<circle cx="339.5" cy="1092" r="4.5" fill="#6a6a6a"/>
<polygon points="350.3,1087.6 356.1,1087.6 356.1,1090 358.5,1090 358.5,1095.8 356.1,1095.8 356.1,1098.2 350.3,1098.2 350.3,1095.8 347.9,1095.8 347.9,1090 350.3,1090" fill="#6a6a6a"/>
<circle cx="353.2" cy="1092.9" r="4.5" fill="#6a6a6a"/>
<polygon points="371.6,1096.9 377.4,1096.9 377.4,1099.3 379.8,1099.3 379.8,1105.1 377.4,1105.1 377.4,1107.5 371.6,1107.5 371.6,1105.1 369.2,1105.1 369.2,1099.3 371.6,1099.3" fill="#6a6a6a"/>
<circle cx="374.5" cy="1102.2" r="4.5" fill="#6a6a6a"/>
<polygon points="386,1020.3 391.8,1020.3 391.8,1022.7 394.2,1022.7 394.2,1028.5 391.8,1028.5 391.8,1030.9 386,1030.9 386,1028.5 383.6,1028.5 383.6,1022.7 386,1022.7" fill="#6a6a6a"/>
<circle cx="388.9" cy="1025.6" r="4.5" fill="#6a6a6a"/>
<polygon points="380.9,1028.8 386.7,1028.8 386.7,1031.2 389.1,1031.2 389.1,1037 386.7,1037 386.7,1039.4 380.9,1039.4 380.9,1037 378.5,1037 378.5,1031.2 380.9,1031.2" fill="#6a6a6a"/>
<circle cx="383.8" cy="1034.1" r="4.5" fill="#6a6a6a"/>
<polygon points="390.3,1053.5 396.1,1053.5 396.1,1055.9 398.5,1055.9 398.5,1061.7 396.1,1061.7 396.1,1064.1 390.3,1064.1 390.3,1061.7 387.9,1061.7 387.9,1055.9 390.3,1055.9" fill="#6a6a6a"/>
<circle cx="393.2" cy="1058.8" r="4.5" fill="#6a6a6a"/>
<polygon points="392.8,1093.5 398.6,1093.5 398.6,1095.9 401,1095.9 401,1101.7 398.6,1101.7 398.6,1104.1 392.8,1104.1 392.8,1101.7 390.4,1101.7 390.4,1095.9 392.8,1095.9" fill="#6a6a6a"/>
<circle cx="395.7" cy="1098.8" r="4.5" fill="#6a6a6a"/>
<polygon points="384.3,1108.9 390.1,1108.9 390.1,1111.3 392.5,1111.3 392.5,1117.1 390.1,1117.1 390.1,1119.5 384.3,1119.5 384.3,1117.1 381.9,1117.1 381.9,1111.3 384.3,1111.3" fill="#6a6a6a"/>
<circle cx="387.2" cy="1114.2" r="4.5" fill="#6a6a6a"/>
<polygon points="392.8,1102.1 398.6,1102.1 398.6,1104.5 401,1104.5 401,1110.3 398.6,1110.3 398.6,1112.7 392.8,1112.7 392.8,1110.3 390.4,1110.3 390.4,1104.5 392.8,1104.5" fill="#6a6a6a"/>
<circle cx="395.7" cy="1107.4" r="4.5" fill="#6a6a6a"/>
<polygon points="406.5,1067.7 412.3,1067.7 412.3,1070.1 414.7,1070.1 414.7,1075.9 412.3,1075.9 412.3,1078.3 406.5,1078.3 406.5,1075.9 404.1,1075.9 404.1,1070.1 406.5,1070.1" fill="#6a6a6a"/>
<circle cx="409.4" cy="1073" r="4.5" fill="#6a6a6a"/>
<polygon points="421.6,1057.7 427.4,1057.7 427.4,1060.1 429.8,1060.1 429.8,1065.9 427.4,1065.9 427.4,1068.3 421.6,1068.3 421.6,1065.9 419.2,1065.9 419.2,1060.1 421.6,1060.1" fill="#6a6a6a"/>
<circle cx="424.5" cy="1063" r="4.5" fill="#6a6a6a"/>
<polygon points="434.5,1058.4 440.3,1058.4 440.3,1060.8 442.7,1060.8 442.7,1066.6 440.3,1066.6 440.3,1069 434.5,1069 434.5,1066.6 432.1,1066.6 432.1,1060.8 434.5,1060.8" fill="#6a6a6a"/>
<circle cx="437.4" cy="1063.7" r="4.5" fill="#6a6a6a"/>
<polygon points="456.7,1059.9 462.5,1059.9 462.5,1062.3 464.9,1062.3 464.9,1068.1 462.5,1068.1 462.5,1070.5 456.7,1070.5 456.7,1068.1 454.3,1068.1 454.3,1062.3 456.7,1062.3" fill="#6a6a6a"/>
<circle cx="459.6" cy="1065.2" r="4.5" fill="#6a6a6a"/>
<polygon points="434.5,1075.7 440.3,1075.7 440.3,1078.1 442.7,1078.1 442.7,1083.9 440.3,1083.9 440.3,1086.3 434.5,1086.3 434.5,1083.9 432.1,1083.9 432.1,1078.1 434.5,1078.1" fill="#6a6a6a"/>
<circle cx="437.4" cy="1081" r="4.5" fill="#6a6a6a"/>
<polygon points="431.6,1110.1 437.4,1110.1 437.4,1112.5 439.8,1112.5 439.8,1118.3 437.4,1118.3 437.4,1120.7 431.6,1120.7 431.6,1118.3 429.2,1118.3 429.2,1112.5 431.6,1112.5" fill="#6a6a6a"/>
<circle cx="434.5" cy="1115.4" r="4.5" fill="#6a6a6a"/>
<polygon points="423,1120.1 428.8,1120.1 428.8,1122.5 431.2,1122.5 431.2,1128.3 428.8,1128.3 428.8,1130.7 423,1130.7 423,1128.3 420.6,1128.3 420.6,1122.5 423,1122.5" fill="#6a6a6a"/>
<circle cx="425.9" cy="1125.4" r="4.5" fill="#6a6a6a"/>
<polygon points="446,1097.9 451.8,1097.9 451.8,1100.3 454.2,1100.3 454.2,1106.1 451.8,1106.1 451.8,1108.5 446,1108.5 446,1106.1 443.6,1106.1 443.6,1100.3 446,1100.3" fill="#6a6a6a"/>
<circle cx="448.9" cy="1103.2" r="4.5" fill="#6a6a6a"/>
<polygon points="457.4,1097.9 463.2,1097.9 463.2,1100.3 465.6,1100.3 465.6,1106.1 463.2,1106.1 463.2,1108.5 457.4,1108.5 457.4,1106.1 455,1106.1 455,1100.3 457.4,1100.3" fill="#6a6a6a"/>
<circle cx="460.3" cy="1103.2" r="4.5" fill="#6a6a6a"/>
<polygon points="461.7,1097.9 467.5,1097.9 467.5,1100.3 469.9,1100.3 469.9,1106.1 467.5,1106.1 467.5,1108.5 461.7,1108.5 461.7,1106.1 459.3,1106.1 459.3,1100.3 461.7,1100.3" fill="#6a6a6a"/>
<circle cx="464.6" cy="1103.2" r="4.5" fill="#6a6a6a"/>
<polygon points="476.1,1107.2 481.9,1107.2 481.9,1109.6 484.3,1109.6 484.3,1115.4 481.9,1115.4 481.9,1117.8 476.1,1117.8 476.1,1115.4 473.7,1115.4 473.7,1109.6 476.1,1109.6" fill="#6a6a6a"/>
<circle cx="479" cy="1112.5" r="4.5" fill="#6a6a6a"/>
<polygon points="490.4,1096.4 496.2,1096.4 496.2,1098.8 498.6,1098.8 498.6,1104.6 496.2,1104.6 496.2,1107 490.4,1107 490.4,1104.6 488,1104.6 488,1098.8 490.4,1098.8" fill="#6a6a6a"/>
<circle cx="493.3" cy="1101.7" r="4.5" fill="#6a6a6a"/>
<polygon points="481.8,1125.8 487.6,1125.8 487.6,1128.2 490,1128.2 490,1134 487.6,1134 487.6,1136.4 481.8,1136.4 481.8,1134 479.4,1134 479.4,1128.2 481.8,1128.2" fill="#6a6a6a"/>
<circle cx="484.7" cy="1131.1" r="4.5" fill="#6a6a6a"/>
<polygon points="508.4,1134.5 514.2,1134.5 514.2,1136.9 516.6,1136.9 516.6,1142.7 514.2,1142.7 514.2,1145.1 508.4,1145.1 508.4,1142.7 506,1142.7 506,1136.9 508.4,1136.9" fill="#6a6a6a"/>
<circle cx="511.3" cy="1139.8" r="4.5" fill="#6a6a6a"/>
<polygon points="329.8,1044.3 335.6,1044.3 335.6,1046.7 338,1046.7 338,1052.5 335.6,1052.5 335.6,1054.9 329.8,1054.9 329.8,1052.5 327.4,1052.5 327.4,1046.7 329.8,1046.7" fill="#6a6a6a"/>
<circle cx="332.7" cy="1049.6" r="4.5" fill="#6a6a6a"/>
<polygon points="321.9,1052.2 327.7,1052.2 327.7,1054.6 330.1,1054.6 330.1,1060.4 327.7,1060.4 327.7,1062.8 321.9,1062.8 321.9,1060.4 319.5,1060.4 319.5,1054.6 321.9,1054.6" fill="#6a6a6a"/>
<circle cx="324.8" cy="1057.5" r="4.5" fill="#6a6a6a"/>
<polygon points="331.8,1053.2 337.6,1053.2 337.6,1055.6 340,1055.6 340,1061.4 337.6,1061.4 337.6,1063.8 331.8,1063.8 331.8,1061.4 329.4,1061.4 329.4,1055.6 331.8,1055.6" fill="#6a6a6a"/>
<circle cx="334.7" cy="1058.5" r="4.5" fill="#6a6a6a"/>
<polygon points="318.9,1057.1 324.7,1057.1 324.7,1059.5 327.1,1059.5 327.1,1065.3 324.7,1065.3 324.7,1067.7 318.9,1067.7 318.9,1065.3 316.5,1065.3 316.5,1059.5 318.9,1059.5" fill="#6a6a6a"/>
<circle cx="321.8" cy="1062.4" r="4.5" fill="#6a6a6a"/>
<polygon points="340.6,1066 346.4,1066 346.4,1068.4 348.8,1068.4 348.8,1074.2 346.4,1074.2 346.4,1076.6 340.6,1076.6 340.6,1074.2 338.2,1074.2 338.2,1068.4 340.6,1068.4" fill="#6a6a6a"/>
<circle cx="343.5" cy="1071.3" r="4.5" fill="#6a6a6a"/>
<polygon points="360.4,1067 366.2,1067 366.2,1069.4 368.6,1069.4 368.6,1075.2 366.2,1075.2 366.2,1077.6 360.4,1077.6 360.4,1075.2 358,1075.2 358,1069.4 360.4,1069.4" fill="#6a6a6a"/>
<circle cx="363.3" cy="1072.3" r="4.5" fill="#6a6a6a"/>
<polygon points="345.6,1075.8 351.4,1075.8 351.4,1078.2 353.8,1078.2 353.8,1084 351.4,1084 351.4,1086.4 345.6,1086.4 345.6,1084 343.2,1084 343.2,1078.2 345.6,1078.2" fill="#6a6a6a"/>
<circle cx="348.5" cy="1081.1" r="4.5" fill="#6a6a6a"/>
<polygon points="360.4,1076.8 366.2,1076.8 366.2,1079.2 368.6,1079.2 368.6,1085 366.2,1085 366.2,1087.4 360.4,1087.4 360.4,1085 358,1085 358,1079.2 360.4,1079.2" fill="#6a6a6a"/>
<circle cx="363.3" cy="1082.1" r="4.5" fill="#6a6a6a"/>
<polygon points="364.3,1078.8 370.1,1078.8 370.1,1081.2 372.5,1081.2 372.5,1087 370.1,1087 370.1,1089.4 364.3,1089.4 364.3,1087 361.9,1087 361.9,1081.2 364.3,1081.2" fill="#6a6a6a"/>
<circle cx="367.2" cy="1084.1" r="4.5" fill="#6a6a6a"/>
<polygon points="349.5,1087.7 355.3,1087.7 355.3,1090.1 357.7,1090.1 357.7,1095.9 355.3,1095.9 355.3,1098.3 349.5,1098.3 349.5,1095.9 347.1,1095.9 347.1,1090.1 349.5,1090.1" fill="#6a6a6a"/>
<circle cx="352.4" cy="1093" r="4.5" fill="#6a6a6a"/>
<polygon points="346.5,1082.7 352.3,1082.7 352.3,1085.1 354.7,1085.1 354.7,1090.9 352.3,1090.9 352.3,1093.3 346.5,1093.3 346.5,1090.9 344.1,1090.9 344.1,1085.1 346.5,1085.1" fill="#6a6a6a"/>
<circle cx="349.4" cy="1088" r="4.5" fill="#6a6a6a"/>
<polygon points="388,1108.4 393.8,1108.4 393.8,1110.8 396.2,1110.8 396.2,1116.6 393.8,1116.6 393.8,1119 388,1119 388,1116.6 385.6,1116.6 385.6,1110.8 388,1110.8" fill="#6a6a6a"/>
<circle cx="390.9" cy="1113.7" r="4.5" fill="#6a6a6a"/>
<polygon points="822,1027.6 827.8,1027.6 827.8,1030 830.2,1030 830.2,1035.8 827.8,1035.8 827.8,1038.2 822,1038.2 822,1035.8 819.6,1035.8 819.6,1030 822,1030" fill="#6a6a6a"/>
<circle cx="824.9" cy="1032.9" r="4.5" fill="#6a6a6a"/>
<polygon points="780.8,1044.6 786.6,1044.6 786.6,1047 789,1047 789,1052.8 786.6,1052.8 786.6,1055.2 780.8,1055.2 780.8,1052.8 778.4,1052.8 778.4,1047 780.8,1047" fill="#6a6a6a"/>
<circle cx="783.7" cy="1049.9" r="4.5" fill="#6a6a6a"/>
<polygon points="799.4,1055.9 805.2,1055.9 805.2,1058.3 807.6,1058.3 807.6,1064.1 805.2,1064.1 805.2,1066.5 799.4,1066.5 799.4,1064.1 797,1064.1 797,1058.3 799.4,1058.3" fill="#6a6a6a"/>
<circle cx="802.3" cy="1061.2" r="4.5" fill="#6a6a6a"/>
<polygon points="825.2,1049.4 831,1049.4 831,1051.8 833.4,1051.8 833.4,1057.6 831,1057.6 831,1060 825.2,1060 825.2,1057.6 822.8,1057.6 822.8,1051.8 825.2,1051.8" fill="#6a6a6a"/>
<circle cx="828.1" cy="1054.7" r="4.5" fill="#6a6a6a"/>
<polygon points="855.1,1043.8 860.9,1043.8 860.9,1046.2 863.3,1046.2 863.3,1052 860.9,1052 860.9,1054.4 855.1,1054.4 855.1,1052 852.7,1052 852.7,1046.2 855.1,1046.2" fill="#6a6a6a"/>
<circle cx="858" cy="1049.1" r="4.5" fill="#6a6a6a"/>
<polygon points="883.3,1047.8 889.1,1047.8 889.1,1050.2 891.5,1050.2 891.5,1056 889.1,1056 889.1,1058.4 883.3,1058.4 883.3,1056 880.9,1056 880.9,1050.2 883.3,1050.2" fill="#6a6a6a"/>
<circle cx="886.2" cy="1053.1" r="4.5" fill="#6a6a6a"/>
<polygon points="889,1058.3 894.8,1058.3 894.8,1060.7 897.2,1060.7 897.2,1066.5 894.8,1066.5 894.8,1068.9 889,1068.9 889,1066.5 886.6,1066.5 886.6,1060.7 889,1060.7" fill="#6a6a6a"/>
<circle cx="891.9" cy="1063.6" r="4.5" fill="#6a6a6a"/>
<polygon points="843,1074.4 848.8,1074.4 848.8,1076.8 851.2,1076.8 851.2,1082.6 848.8,1082.6 848.8,1085 843,1085 843,1082.6 840.6,1082.6 840.6,1076.8 843,1076.8" fill="#6a6a6a"/>
<circle cx="845.9" cy="1079.7" r="4.5" fill="#6a6a6a"/>
<polygon points="877.7,1067.2 883.5,1067.2 883.5,1069.6 885.9,1069.6 885.9,1075.4 883.5,1075.4 883.5,1077.8 877.7,1077.8 877.7,1075.4 875.3,1075.4 875.3,1069.6 877.7,1069.6" fill="#6a6a6a"/>
<circle cx="880.6" cy="1072.5" r="4.5" fill="#6a6a6a"/>
<polygon points="905.9,1066.4 911.7,1066.4 911.7,1068.8 914.1,1068.8 914.1,1074.6 911.7,1074.6 911.7,1077 905.9,1077 905.9,1074.6 903.5,1074.6 903.5,1068.8 905.9,1068.8" fill="#6a6a6a"/>
<circle cx="908.8" cy="1071.7" r="4.5" fill="#6a6a6a"/>
<polygon points="889.8,1076.9 895.6,1076.9 895.6,1079.3 898,1079.3 898,1085.1 895.6,1085.1 895.6,1087.5 889.8,1087.5 889.8,1085.1 887.4,1085.1 887.4,1079.3 889.8,1079.3" fill="#6a6a6a"/>
<circle cx="892.7" cy="1082.2" r="4.5" fill="#6a6a6a"/>
<polygon points="853.5,1097.8 859.3,1097.8 859.3,1100.2 861.7,1100.2 861.7,1106 859.3,1106 859.3,1108.4 853.5,1108.4 853.5,1106 851.1,1106 851.1,1100.2 853.5,1100.2" fill="#6a6a6a"/>
<circle cx="856.4" cy="1103.1" r="4.5" fill="#6a6a6a"/>
<polygon points="837.3,1104.3 843.1,1104.3 843.1,1106.7 845.5,1106.7 845.5,1112.5 843.1,1112.5 843.1,1114.9 837.3,1114.9 837.3,1112.5 834.9,1112.5 834.9,1106.7 837.3,1106.7" fill="#6a6a6a"/>
<circle cx="840.2" cy="1109.6" r="4.5" fill="#6a6a6a"/>
<polygon points="883.3,1104.3 889.1,1104.3 889.1,1106.7 891.5,1106.7 891.5,1112.5 889.1,1112.5 889.1,1114.9 883.3,1114.9 883.3,1112.5 880.9,1112.5 880.9,1106.7 883.3,1106.7" fill="#6a6a6a"/>
<circle cx="886.2" cy="1109.6" r="4.5" fill="#6a6a6a"/>
<polygon points="893,1103.5 898.8,1103.5 898.8,1105.9 901.2,1105.9 901.2,1111.7 898.8,1111.7 898.8,1114.1 893,1114.1 893,1111.7 890.6,1111.7 890.6,1105.9 893,1105.9" fill="#6a6a6a"/>
<circle cx="895.9" cy="1108.8" r="4.5" fill="#6a6a6a"/>
<polygon points="912.4,1089 918.2,1089 918.2,1091.4 920.6,1091.4 920.6,1097.2 918.2,1097.2 918.2,1099.6 912.4,1099.6 912.4,1097.2 910,1097.2 910,1091.4 912.4,1091.4" fill="#6a6a6a"/>
<circle cx="915.3" cy="1094.3" r="4.5" fill="#6a6a6a"/>
<polygon points="928.5,1082.5 934.3,1082.5 934.3,1084.9 936.7,1084.9 936.7,1090.7 934.3,1090.7 934.3,1093.1 928.5,1093.1 928.5,1090.7 926.1,1090.7 926.1,1084.9 928.5,1084.9" fill="#6a6a6a"/>
<circle cx="931.4" cy="1087.8" r="4.5" fill="#6a6a6a"/>
<polygon points="943.1,1090.6 948.9,1090.6 948.9,1093 951.3,1093 951.3,1098.8 948.9,1098.8 948.9,1101.2 943.1,1101.2 943.1,1098.8 940.7,1098.8 940.7,1093 943.1,1093" fill="#6a6a6a"/>
<circle cx="946" cy="1095.9" r="4.5" fill="#6a6a6a"/>
<polygon points="904.3,1105.1 910.1,1105.1 910.1,1107.5 912.5,1107.5 912.5,1113.3 910.1,1113.3 910.1,1115.7 904.3,1115.7 904.3,1113.3 901.9,1113.3 901.9,1107.5 904.3,1107.5" fill="#6a6a6a"/>
<circle cx="907.2" cy="1110.4" r="4.5" fill="#6a6a6a"/>
<polygon points="899.5,1111.6 905.3,1111.6 905.3,1114 907.7,1114 907.7,1119.8 905.3,1119.8 905.3,1122.2 899.5,1122.2 899.5,1119.8 897.1,1119.8 897.1,1114 899.5,1114" fill="#6a6a6a"/>
<circle cx="902.4" cy="1116.9" r="4.5" fill="#6a6a6a"/>
<polygon points="902.7,1118 908.5,1118 908.5,1120.4 910.9,1120.4 910.9,1126.2 908.5,1126.2 908.5,1128.6 902.7,1128.6 902.7,1126.2 900.3,1126.2 900.3,1120.4 902.7,1120.4" fill="#6a6a6a"/>
<circle cx="905.6" cy="1123.3" r="4.5" fill="#6a6a6a"/>
<polygon points="922.1,1114.8 927.9,1114.8 927.9,1117.2 930.3,1117.2 930.3,1123 927.9,1123 927.9,1125.4 922.1,1125.4 922.1,1123 919.7,1123 919.7,1117.2 922.1,1117.2" fill="#6a6a6a"/>
<circle cx="925" cy="1120.1" r="4.5" fill="#6a6a6a"/>
<polygon points="930.1,1108.3 935.9,1108.3 935.9,1110.7 938.3,1110.7 938.3,1116.5 935.9,1116.5 935.9,1118.9 930.1,1118.9 930.1,1116.5 927.7,1116.5 927.7,1110.7 930.1,1110.7" fill="#6a6a6a"/>
<circle cx="933" cy="1113.6" r="4.5" fill="#6a6a6a"/>
<polygon points="931,1121.3 936.8,1121.3 936.8,1123.7 939.2,1123.7 939.2,1129.5 936.8,1129.5 936.8,1131.9 931,1131.9 931,1129.5 928.6,1129.5 928.6,1123.7 931,1123.7" fill="#6a6a6a"/>
<circle cx="933.9" cy="1126.6" r="4.5" fill="#6a6a6a"/>
<polygon points="899.5,1127.7 905.3,1127.7 905.3,1130.1 907.7,1130.1 907.7,1135.9 905.3,1135.9 905.3,1138.3 899.5,1138.3 899.5,1135.9 897.1,1135.9 897.1,1130.1 899.5,1130.1" fill="#6a6a6a"/>
<circle cx="902.4" cy="1133" r="4.5" fill="#6a6a6a"/>
<polygon points="944.7,1113.2 950.5,1113.2 950.5,1115.6 952.9,1115.6 952.9,1121.4 950.5,1121.4 950.5,1123.8 944.7,1123.8 944.7,1121.4 942.3,1121.4 942.3,1115.6 944.7,1115.6" fill="#6a6a6a"/>
<circle cx="947.6" cy="1118.5" r="4.5" fill="#6a6a6a"/>
<polygon points="943.1,1134.2 948.9,1134.2 948.9,1136.6 951.3,1136.6 951.3,1142.4 948.9,1142.4 948.9,1144.8 943.1,1144.8 943.1,1142.4 940.7,1142.4 940.7,1136.6 943.1,1136.6" fill="#6a6a6a"/>
<circle cx="946" cy="1139.5" r="4.5" fill="#6a6a6a"/>
<polygon points="946.3,1074.4 952.1,1074.4 952.1,1076.8 954.5,1076.8 954.5,1082.6 952.1,1082.6 952.1,1085 946.3,1085 946.3,1082.6 943.9,1082.6 943.9,1076.8 946.3,1076.8" fill="#6a6a6a"/>
<circle cx="949.2" cy="1079.7" r="4.5" fill="#6a6a6a"/>
<polygon points="1046.9,1038.4 1052.7,1038.4 1052.7,1040.8 1055.1,1040.8 1055.1,1046.6 1052.7,1046.6 1052.7,1049 1046.9,1049 1046.9,1046.6 1044.5,1046.6 1044.5,1040.8 1046.9,1040.8" fill="#6a6a6a"/>
<circle cx="1049.8" cy="1043.7" r="4.5" fill="#6a6a6a"/>
<polygon points="965.2,1086.4 971,1086.4 971,1088.8 973.4,1088.8 973.4,1094.6 971,1094.6 971,1097 965.2,1097 965.2,1094.6 962.8,1094.6 962.8,1088.8 965.2,1088.8" fill="#6a6a6a"/>
<circle cx="968.1" cy="1091.7" r="4.5" fill="#6a6a6a"/>
<polygon points="920,1090.7 925.8,1090.7 925.8,1093.1 928.2,1093.1 928.2,1098.9 925.8,1098.9 925.8,1101.3 920,1101.3 920,1098.9 917.6,1098.9 917.6,1093.1 920,1093.1" fill="#6a6a6a"/>
<circle cx="922.9" cy="1096" r="4.5" fill="#6a6a6a"/>
<polygon points="949.4,1095.8 955.2,1095.8 955.2,1098.2 957.6,1098.2 957.6,1104 955.2,1104 955.2,1106.4 949.4,1106.4 949.4,1104 947,1104 947,1098.2 949.4,1098.2" fill="#6a6a6a"/>
<circle cx="952.3" cy="1101.1" r="4.5" fill="#6a6a6a"/>
<polygon points="993.1,1090.7 998.9,1090.7 998.9,1093.1 1001.3,1093.1 1001.3,1098.9 998.9,1098.9 998.9,1101.3 993.1,1101.3 993.1,1098.9 990.7,1098.9 990.7,1093.1 993.1,1093.1" fill="#6a6a6a"/>
<circle cx="996" cy="1096" r="4.5" fill="#6a6a6a"/>
<polygon points="981.7,1098.6 987.5,1098.6 987.5,1101 989.9,1101 989.9,1106.8 987.5,1106.8 987.5,1109.2 981.7,1109.2 981.7,1106.8 979.3,1106.8 979.3,1101 981.7,1101" fill="#6a6a6a"/>
<circle cx="984.6" cy="1103.9" r="4.5" fill="#6a6a6a"/>
<polygon points="1013.2,1101.5 1019,1101.5 1019,1103.9 1021.4,1103.9 1021.4,1109.7 1019,1109.7 1019,1112.1 1013.2,1112.1 1013.2,1109.7 1010.8,1109.7 1010.8,1103.9 1013.2,1103.9" fill="#6a6a6a"/>
<circle cx="1016.1" cy="1106.8" r="4.5" fill="#6a6a6a"/>
<polygon points="1003.2,1106.5 1009,1106.5 1009,1108.9 1011.4,1108.9 1011.4,1114.7 1009,1114.7 1009,1117.1 1003.2,1117.1 1003.2,1114.7 1000.8,1114.7 1000.8,1108.9 1003.2,1108.9" fill="#6a6a6a"/>
<circle cx="1006.1" cy="1111.8" r="4.5" fill="#6a6a6a"/>
<polygon points="1034.7,1108 1040.5,1108 1040.5,1110.4 1042.9,1110.4 1042.9,1116.2 1040.5,1116.2 1040.5,1118.6 1034.7,1118.6 1034.7,1116.2 1032.3,1116.2 1032.3,1110.4 1034.7,1110.4" fill="#6a6a6a"/>
<circle cx="1037.6" cy="1113.3" r="4.5" fill="#6a6a6a"/>
<polygon points="950.1,1110.8 955.9,1110.8 955.9,1113.2 958.3,1113.2 958.3,1119 955.9,1119 955.9,1121.4 950.1,1121.4 950.1,1119 947.7,1119 947.7,1113.2 950.1,1113.2" fill="#6a6a6a"/>
<circle cx="953" cy="1116.1" r="4.5" fill="#6a6a6a"/>
<polygon points="921.4,1115.1 927.2,1115.1 927.2,1117.5 929.6,1117.5 929.6,1123.3 927.2,1123.3 927.2,1125.7 921.4,1125.7 921.4,1123.3 919,1123.3 919,1117.5 921.4,1117.5" fill="#6a6a6a"/>
<circle cx="924.3" cy="1120.4" r="4.5" fill="#6a6a6a"/>
<polygon points="1014.7,1120.2 1020.5,1120.2 1020.5,1122.6 1022.9,1122.6 1022.9,1128.4 1020.5,1128.4 1020.5,1130.8 1014.7,1130.8 1014.7,1128.4 1012.3,1128.4 1012.3,1122.6 1014.7,1122.6" fill="#6a6a6a"/>
<circle cx="1017.6" cy="1125.5" r="4.5" fill="#6a6a6a"/>
<polygon points="942.9,1133.8 948.7,1133.8 948.7,1136.2 951.1,1136.2 951.1,1142 948.7,1142 948.7,1144.4 942.9,1144.4 942.9,1142 940.5,1142 940.5,1136.2 942.9,1136.2" fill="#6a6a6a"/>
<circle cx="945.8" cy="1139.1" r="4.5" fill="#6a6a6a"/>
<polygon points="1039.1,1133.8 1044.9,1133.8 1044.9,1136.2 1047.3,1136.2 1047.3,1142 1044.9,1142 1044.9,1144.4 1039.1,1144.4 1039.1,1142 1036.7,1142 1036.7,1136.2 1039.1,1136.2" fill="#6a6a6a"/>
<circle cx="1042" cy="1139.1" r="4.5" fill="#6a6a6a"/>
<polygon points="979.5,1144.5 985.3,1144.5 985.3,1146.9 987.7,1146.9 987.7,1152.7 985.3,1152.7 985.3,1155.1 979.5,1155.1 979.5,1152.7 977.1,1152.7 977.1,1146.9 979.5,1146.9" fill="#6a6a6a"/>
<circle cx="982.4" cy="1149.8" r="4.5" fill="#6a6a6a"/>
<polygon points="1067,1143.8 1072.8,1143.8 1072.8,1146.2 1075.2,1146.2 1075.2,1152 1072.8,1152 1072.8,1154.4 1067,1154.4 1067,1152 1064.6,1152 1064.6,1146.2 1067,1146.2" fill="#6a6a6a"/>
<circle cx="1069.9" cy="1149.1" r="4.5" fill="#6a6a6a"/>
<polygon points="904.5,1093.5 910.3,1093.5 910.3,1095.9 912.7,1095.9 912.7,1101.7 910.3,1101.7 910.3,1104.1 904.5,1104.1 904.5,1101.7 902.1,1101.7 902.1,1095.9 904.5,1095.9" fill="#6a6a6a"/>
<circle cx="907.4" cy="1098.8" r="4.5" fill="#6a6a6a"/>
<polygon points="941.1,1090.2 946.9,1090.2 946.9,1092.6 949.3,1092.6 949.3,1098.4 946.9,1098.4 946.9,1100.8 941.1,1100.8 941.1,1098.4 938.7,1098.4 938.7,1092.6 941.1,1092.6" fill="#6a6a6a"/>
<circle cx="944" cy="1095.5" r="4.5" fill="#6a6a6a"/>
<polygon points="948.6,1094.5 954.4,1094.5 954.4,1096.9 956.8,1096.9 956.8,1102.7 954.4,1102.7 954.4,1105.1 948.6,1105.1 948.6,1102.7 946.2,1102.7 946.2,1096.9 948.6,1096.9" fill="#6a6a6a"/>
<circle cx="951.5" cy="1099.8" r="4.5" fill="#6a6a6a"/>
<polygon points="906.6,1104.2 912.4,1104.2 912.4,1106.6 914.8,1106.6 914.8,1112.4 912.4,1112.4 912.4,1114.8 906.6,1114.8 906.6,1112.4 904.2,1112.4 904.2,1106.6 906.6,1106.6" fill="#6a6a6a"/>
<circle cx="909.5" cy="1109.5" r="4.5" fill="#6a6a6a"/>
<polygon points="882.9,1104.2 888.7,1104.2 888.7,1106.6 891.1,1106.6 891.1,1112.4 888.7,1112.4 888.7,1114.8 882.9,1114.8 882.9,1112.4 880.5,1112.4 880.5,1106.6 882.9,1106.6" fill="#6a6a6a"/>
<circle cx="885.8" cy="1109.5" r="4.5" fill="#6a6a6a"/>
<polygon points="949.7,1112.8 955.5,1112.8 955.5,1115.2 957.9,1115.2 957.9,1121 955.5,1121 955.5,1123.4 949.7,1123.4 949.7,1121 947.3,1121 947.3,1115.2 949.7,1115.2" fill="#6a6a6a"/>
<circle cx="952.6" cy="1118.1" r="4.5" fill="#6a6a6a"/>
<polygon points="951.8,1115 957.6,1115 957.6,1117.4 960,1117.4 960,1123.2 957.6,1123.2 957.6,1125.6 951.8,1125.6 951.8,1123.2 949.4,1123.2 949.4,1117.4 951.8,1117.4" fill="#6a6a6a"/>
<circle cx="954.7" cy="1120.3" r="4.5" fill="#6a6a6a"/>
<polygon points="915.2,1088.1 921,1088.1 921,1090.5 923.4,1090.5 923.4,1096.3 921,1096.3 921,1098.7 915.2,1098.7 915.2,1096.3 912.8,1096.3 912.8,1090.5 915.2,1090.5" fill="#6a6a6a"/>
<circle cx="918.1" cy="1093.4" r="4.5" fill="#6a6a6a"/>
<polygon points="877,1067.6 882.8,1067.6 882.8,1070 885.2,1070 885.2,1075.8 882.8,1075.8 882.8,1078.2 877,1078.2 877,1075.8 874.6,1075.8 874.6,1070 877,1070" fill="#6a6a6a"/>
<circle cx="879.9" cy="1072.9" r="4.5" fill="#6a6a6a"/>
<polygon points="888.9,1077.3 894.7,1077.3 894.7,1079.7 897.1,1079.7 897.1,1085.5 894.7,1085.5 894.7,1087.9 888.9,1087.9 888.9,1085.5 886.5,1085.5 886.5,1079.7 888.9,1079.7" fill="#6a6a6a"/>
<circle cx="891.8" cy="1082.6" r="4.5" fill="#6a6a6a"/>
<text x="364.2" y="562" font-size="19.5" font-weight="normal" text-anchor="start" fill="#111" textLength="91" lengthAdjust="spacingAndGlyphs">r = -0.692</text>
<text x="362.3" y="583" font-size="19.5" font-weight="normal" text-anchor="start" fill="#111" textLength="153" lengthAdjust="spacingAndGlyphs">slope = -0.02186</text>
<text x="916.3" y="566" font-size="19.5" font-weight="normal" text-anchor="start" fill="#111" textLength="87.5" lengthAdjust="spacingAndGlyphs">r = -0.802</text>
<text x="916.3" y="590.2" font-size="19.5" font-weight="normal" text-anchor="start" fill="#111" textLength="151.5" lengthAdjust="spacingAndGlyphs">slope = -0.02634</text>
<text x="364.7" y="950.8" font-size="19.5" font-weight="normal" text-anchor="start" fill="#111" textLength="87" lengthAdjust="spacingAndGlyphs">r = -0.570</text>
<text x="364.7" y="974.2" font-size="19.5" font-weight="normal" text-anchor="start" fill="#111" textLength="150.8" lengthAdjust="spacingAndGlyphs">slope = -0.02357</text>
<text x="924.4" y="954.8" font-size="19.5" font-weight="normal" text-anchor="start" fill="#111" textLength="88.6" lengthAdjust="spacingAndGlyphs">r = -0.509</text>
<text x="920.4" y="978.2" font-size="19.5" font-weight="normal" text-anchor="start" fill="#111" textLength="148.3" lengthAdjust="spacingAndGlyphs">slope = -0.01749</text>
<line x1="289.3" y1="1341.5" x2="289.3" y2="1721.5" stroke="#d0d0d0" stroke-width="2" stroke-linecap="butt"/>
<line x1="285.8" y1="1339.5" x2="285.8" y2="1721.5" stroke="#000" stroke-width="4" stroke-linecap="butt"/>
<line x1="273.3" y1="1626.5" x2="285.8" y2="1626.5" stroke="#111" stroke-width="3.5" stroke-linecap="butt"/>
<line x1="273.3" y1="1531.5" x2="285.8" y2="1531.5" stroke="#111" stroke-width="3.5" stroke-linecap="butt"/>
<line x1="273.3" y1="1436.5" x2="285.8" y2="1436.5" stroke="#111" stroke-width="3.5" stroke-linecap="butt"/>
<line x1="273.3" y1="1341.5" x2="285.8" y2="1341.5" stroke="#111" stroke-width="3.5" stroke-linecap="butt"/>
<text x="271" y="1728.8" font-size="20.5" font-weight="bold" text-anchor="end" fill="#111" textLength="30" lengthAdjust="spacingAndGlyphs">0.0</text>
<text x="271" y="1633.8" font-size="20.5" font-weight="bold" text-anchor="end" fill="#111" textLength="30" lengthAdjust="spacingAndGlyphs">0.5</text>
<text x="271" y="1538.8" font-size="20.5" font-weight="bold" text-anchor="end" fill="#111" textLength="30" lengthAdjust="spacingAndGlyphs">1.0</text>
<text x="271" y="1443.8" font-size="20.5" font-weight="bold" text-anchor="end" fill="#111" textLength="30" lengthAdjust="spacingAndGlyphs">1.5</text>
<text x="271" y="1348.8" font-size="20.5" font-weight="bold" text-anchor="end" fill="#111" textLength="30" lengthAdjust="spacingAndGlyphs">2.0</text>
<text transform="translate(227,1533.7) rotate(-90)" x="0" y="0" font-size="20" font-weight="bold" text-anchor="middle" fill="#111" textLength="115" lengthAdjust="spacingAndGlyphs">Bias Index</text>
<line x1="321.5" y1="1476.6" x2="321.5" y2="1555.2" stroke="#444" stroke-width="3" stroke-linecap="butt"/>
<line x1="311.8" y1="1476.6" x2="331.2" y2="1476.6" stroke="#444" stroke-width="3.5" stroke-linecap="butt"/>
<rect x="303.7" y="1555.2" width="36.1" height="166.3" fill="#000"/>
<line x1="377.9" y1="1545.9" x2="377.9" y2="1588.1" stroke="#888" stroke-width="3" stroke-linecap="butt"/>
<line x1="368.2" y1="1545.9" x2="387.6" y2="1545.9" stroke="#888" stroke-width="3.5" stroke-linecap="butt"/>
<rect x="358.7" y="1588.1" width="36.9" height="133.4" fill="#000"/>
<line x1="430" y1="1568.5" x2="430" y2="1619.7" stroke="#888" stroke-width="3" stroke-linecap="butt"/>
<line x1="420.3" y1="1568.5" x2="439.7" y2="1568.5" stroke="#888" stroke-width="3.5" stroke-linecap="butt"/>
<rect x="411.8" y="1619.7" width="36.5" height="101.8" fill="#000"/>
<line x1="486" y1="1417.7" x2="486" y2="1471.9" stroke="#444" stroke-width="3" stroke-linecap="butt"/>
<line x1="476.3" y1="1417.7" x2="495.7" y2="1417.7" stroke="#444" stroke-width="3.5" stroke-linecap="butt"/>
<rect x="467.8" y="1471.9" width="36" height="249.6" fill="#000"/>
<line x1="540.2" y1="1471.9" x2="540.2" y2="1519.9" stroke="#c8c8c8" stroke-width="6" stroke-linecap="butt"/>
<line x1="530.5" y1="1471.9" x2="549.9" y2="1471.9" stroke="#c8c8c8" stroke-width="3.5" stroke-linecap="butt"/>
<rect x="523.2" y="1519.9" width="36.8" height="201.6" fill="#000"/>
<line x1="593.9" y1="1474.1" x2="593.9" y2="1528.1" stroke="#555" stroke-width="3" stroke-linecap="butt"/>
<line x1="584.2" y1="1474.1" x2="603.6" y2="1474.1" stroke="#555" stroke-width="3.5" stroke-linecap="butt"/>
<rect x="576" y="1528.1" width="36.1" height="193.4" fill="#000"/>
<line x1="686.1" y1="1497.9" x2="686.1" y2="1560" stroke="#8a8a8a" stroke-width="3" stroke-linecap="butt"/>
<line x1="676.4" y1="1497.9" x2="695.8" y2="1497.9" stroke="#8a8a8a" stroke-width="3.5" stroke-linecap="butt"/>
<rect x="669.8" y="1561.9" width="32.1" height="159.6" fill="#8a8a8a" stroke="#000" stroke-width="3.8"/>
<line x1="737.9" y1="1490.8" x2="737.9" y2="1548.6" stroke="#8a8a8a" stroke-width="3" stroke-linecap="butt"/>
<line x1="728.2" y1="1490.8" x2="747.6" y2="1490.8" stroke="#8a8a8a" stroke-width="3.5" stroke-linecap="butt"/>
<rect x="722.2" y="1550.5" width="32" height="171" fill="#8a8a8a" stroke="#000" stroke-width="3.8"/>
<line x1="794.1" y1="1533.8" x2="794.1" y2="1592.6" stroke="#8a8a8a" stroke-width="3" stroke-linecap="butt"/>
<line x1="784.4" y1="1533.8" x2="803.8" y2="1533.8" stroke="#8a8a8a" stroke-width="3.5" stroke-linecap="butt"/>
<rect x="778.1" y="1594.5" width="31.4" height="127" fill="#8a8a8a" stroke="#000" stroke-width="3.8"/>
<line x1="847.9" y1="1439.7" x2="847.9" y2="1504.8" stroke="#cdcdcd" stroke-width="6.5" stroke-linecap="butt"/>
<line x1="838.2" y1="1439.7" x2="857.6" y2="1439.7" stroke="#cdcdcd" stroke-width="3.5" stroke-linecap="butt"/>
<rect x="834" y="1506.7" width="31.7" height="214.8" fill="#8a8a8a" stroke="#000" stroke-width="3.8"/>
<line x1="902.3" y1="1502" x2="902.3" y2="1552.7" stroke="#555" stroke-width="3" stroke-linecap="butt"/>
<line x1="892.6" y1="1502" x2="912" y2="1502" stroke="#555" stroke-width="3.5" stroke-linecap="butt"/>
<rect x="886.5" y="1554.6" width="30.9" height="166.9" fill="#8a8a8a" stroke="#000" stroke-width="3.8"/>
<line x1="958" y1="1474.1" x2="958" y2="1524.6" stroke="#999" stroke-width="3" stroke-linecap="butt"/>
<line x1="948.3" y1="1474.1" x2="967.7" y2="1474.1" stroke="#999" stroke-width="3.5" stroke-linecap="butt"/>
<rect x="942.2" y="1526.5" width="31.7" height="195" fill="#8a8a8a" stroke="#000" stroke-width="3.8"/>
<line x1="273.3" y1="1721.5" x2="995.5" y2="1721.5" stroke="#000" stroke-width="4.5" stroke-linecap="butt"/>
<line x1="321.8" y1="1721.5" x2="321.8" y2="1734" stroke="#222" stroke-width="3" stroke-linecap="butt"/>
<text x="323.8" y="1755.5" font-size="21.5" font-weight="bold" text-anchor="middle" fill="#111">1-5</text>
<line x1="377.2" y1="1721.5" x2="377.2" y2="1734" stroke="#222" stroke-width="3" stroke-linecap="butt"/>
<text x="377.4" y="1755.5" font-size="21.5" font-weight="bold" text-anchor="middle" fill="#111">6-10</text>
<line x1="430" y1="1721.5" x2="430" y2="1734" stroke="#222" stroke-width="3" stroke-linecap="butt"/>
<text x="432.2" y="1755.5" font-size="21.5" font-weight="bold" text-anchor="middle" fill="#111">11-15</text>
<line x1="485.8" y1="1721.5" x2="485.8" y2="1734" stroke="#222" stroke-width="3" stroke-linecap="butt"/>
<text x="487.2" y="1755.5" font-size="21.5" font-weight="bold" text-anchor="middle" fill="#111">1-5</text>
<line x1="541.6" y1="1721.5" x2="541.6" y2="1734" stroke="#222" stroke-width="3" stroke-linecap="butt"/>
<text x="539.7" y="1755.5" font-size="21.5" font-weight="bold" text-anchor="middle" fill="#111">6-10</text>
<line x1="594.1" y1="1721.5" x2="594.1" y2="1734" stroke="#222" stroke-width="3" stroke-linecap="butt"/>
<text x="594.4" y="1755.5" font-size="21.5" font-weight="bold" text-anchor="middle" fill="#111">11-15</text>
<line x1="685.9" y1="1721.5" x2="685.9" y2="1734" stroke="#222" stroke-width="3" stroke-linecap="butt"/>
<text x="686.1" y="1755.5" font-size="21.5" font-weight="bold" text-anchor="middle" fill="#111">1-5</text>
<line x1="738.2" y1="1721.5" x2="738.2" y2="1734" stroke="#222" stroke-width="3" stroke-linecap="butt"/>
<text x="739.5" y="1755.5" font-size="21.5" font-weight="bold" text-anchor="middle" fill="#111">6-10</text>
<line x1="793.8" y1="1721.5" x2="793.8" y2="1734" stroke="#222" stroke-width="3" stroke-linecap="butt"/>
<text x="795.3" y="1755.5" font-size="21.5" font-weight="bold" text-anchor="middle" fill="#111">11-15</text>
<line x1="849.8" y1="1721.5" x2="849.8" y2="1734" stroke="#222" stroke-width="3" stroke-linecap="butt"/>
<text x="849.8" y="1755.5" font-size="21.5" font-weight="bold" text-anchor="middle" fill="#111">1-5</text>
<line x1="902" y1="1721.5" x2="902" y2="1734" stroke="#222" stroke-width="3" stroke-linecap="butt"/>
<text x="901.9" y="1755.5" font-size="21.5" font-weight="bold" text-anchor="middle" fill="#111">6-10</text>
<line x1="958.1" y1="1721.5" x2="958.1" y2="1734" stroke="#222" stroke-width="3" stroke-linecap="butt"/>
<text x="957.6" y="1755.5" font-size="21.5" font-weight="bold" text-anchor="middle" fill="#111">11-15</text>
<text x="388" y="1787" font-size="22.5" font-weight="normal" text-anchor="middle" fill="#111" textLength="88.5" lengthAdjust="spacingAndGlyphs">Stimulus</text>
<text x="559.5" y="1787" font-size="22.5" font-weight="normal" text-anchor="middle" fill="#111" textLength="88.5" lengthAdjust="spacingAndGlyphs">Location</text>
<text x="760" y="1787" font-size="22.5" font-weight="normal" text-anchor="middle" fill="#111" textLength="88.5" lengthAdjust="spacingAndGlyphs">Stimulus</text>
<text x="904" y="1787" font-size="22.5" font-weight="normal" text-anchor="middle" fill="#111" textLength="88.5" lengthAdjust="spacingAndGlyphs">Location</text>
<polyline points="319.7,1343.5 319.7,1330 485.2,1330 485.2,1343.5" fill="none" stroke="#000" stroke-width="4.5" stroke-linecap="butt" stroke-linejoin="round"/>
<polyline points="471.8,1314.4 471.8,1302.2 593.5,1302.2 593.5,1314.4" fill="none" stroke="#000" stroke-width="4.5" stroke-linecap="butt" stroke-linejoin="round"/>
<polyline points="373.7,1375 373.7,1362.4 537.7,1362.4 537.7,1375" fill="none" stroke="#000" stroke-width="4.5" stroke-linecap="butt" stroke-linejoin="round"/>
<polyline points="427.5,1412 427.5,1401.7 593.5,1401.7 593.5,1412" fill="none" stroke="#000" stroke-width="4.5" stroke-linecap="butt" stroke-linejoin="round"/>
<polyline points="790,1435.3 790,1422.6 953.7,1422.6 953.7,1435.3" fill="none" stroke="#5a5a5a" stroke-width="3.8" stroke-linecap="butt" stroke-linejoin="round"/>
<rect x="384" y="1312" width="11.6" height="11.6" fill="#999"/>
<ellipse cx="389.8" cy="1317.8" rx="2.4" ry="3.6" fill="#000"/>
<rect x="398" y="1312" width="11.6" height="11.6" fill="#999"/>
<ellipse cx="403.8" cy="1317.8" rx="2.4" ry="3.6" fill="#000"/>
<rect x="412" y="1312" width="11.6" height="11.6" fill="#999"/>
<ellipse cx="417.8" cy="1317.8" rx="2.4" ry="3.6" fill="#000"/>
<rect x="521.2" y="1284" width="11.6" height="11.6" fill="#999"/>
<ellipse cx="527" cy="1289.8" rx="2.4" ry="3.6" fill="#000"/>
<rect x="454" y="1344.1" width="11.6" height="11.6" fill="#999"/>
<ellipse cx="459.8" cy="1349.9" rx="2.4" ry="3.6" fill="#000"/>
<rect x="496.9" y="1380" width="11.6" height="11.6" fill="#999"/>
<ellipse cx="502.7" cy="1385.8" rx="2.4" ry="3.6" fill="#000"/>
<rect x="510.9" y="1380" width="11.6" height="11.6" fill="#999"/>
<ellipse cx="516.7" cy="1385.8" rx="2.4" ry="3.6" fill="#000"/>
<rect x="524.9" y="1380" width="11.6" height="11.6" fill="#999"/>
<ellipse cx="530.7" cy="1385.8" rx="2.4" ry="3.6" fill="#000"/>
<rect x="867.8" y="1399.6" width="11.6" height="11.6" fill="#999"/>
<ellipse cx="873.6" cy="1405.4" rx="2.4" ry="3.6" fill="#000"/>
<rect x="768.2" y="1319.5" width="28.2" height="12.8" fill="#000"/>
<rect x="769.7" y="1356.7" width="25.2" height="13.1" fill="#8a8a8a" stroke="#000" stroke-width="3"/>
<text x="816.5" y="1335.7" font-size="22" font-weight="normal" text-anchor="start" fill="#111" textLength="62.5" lengthAdjust="spacingAndGlyphs">Young</text>
<text x="814" y="1371" font-size="22" font-weight="normal" text-anchor="start" fill="#111" textLength="55" lengthAdjust="spacingAndGlyphs">Aged</text>
</g>
</svg>
</body></html>
